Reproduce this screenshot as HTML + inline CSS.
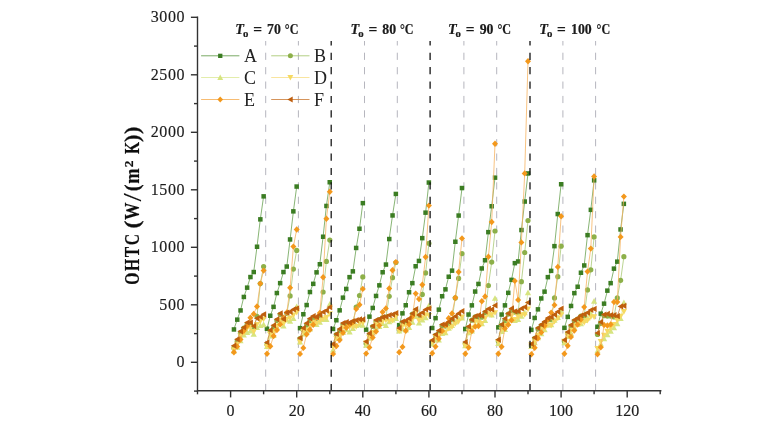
<!DOCTYPE html>
<html><head><meta charset="utf-8"><title>OHTC chart</title>
<style>html,body{margin:0;padding:0;background:#fff}svg{display:block}</style></head>
<body>
<svg width="779" height="425" viewBox="0 0 779 425">
<defs><filter id="soft" x="0" y="0" width="779" height="425" filterUnits="userSpaceOnUse"><feGaussianBlur stdDeviation="0.38"/></filter></defs>
<rect width="779" height="425" fill="#fff"/>
<g filter="url(#soft)">
<line x1="265.7" y1="41" x2="265.7" y2="390" stroke="#b6b6be" stroke-width="1.0" stroke-dasharray="7.2 7.2" stroke-dashoffset="2.7"/>
<line x1="298.4" y1="41" x2="298.4" y2="390" stroke="#b6b6be" stroke-width="1.0" stroke-dasharray="7.2 7.2" stroke-dashoffset="2.7"/>
<line x1="364.5" y1="41" x2="364.5" y2="390" stroke="#b6b6be" stroke-width="1.0" stroke-dasharray="7.2 7.2" stroke-dashoffset="2.7"/>
<line x1="397.3" y1="41" x2="397.3" y2="390" stroke="#b6b6be" stroke-width="1.0" stroke-dasharray="7.2 7.2" stroke-dashoffset="2.7"/>
<line x1="463.9" y1="41" x2="463.9" y2="390" stroke="#b6b6be" stroke-width="1.0" stroke-dasharray="7.2 7.2" stroke-dashoffset="2.7"/>
<line x1="496.7" y1="41" x2="496.7" y2="390" stroke="#b6b6be" stroke-width="1.0" stroke-dasharray="7.2 7.2" stroke-dashoffset="2.7"/>
<line x1="562.9" y1="41" x2="562.9" y2="390" stroke="#b6b6be" stroke-width="1.0" stroke-dasharray="7.2 7.2" stroke-dashoffset="2.7"/>
<line x1="595.6" y1="41" x2="595.6" y2="390" stroke="#b6b6be" stroke-width="1.0" stroke-dasharray="7.2 7.2" stroke-dashoffset="2.7"/>
<polyline points="233.9,329.4 237.2,319.6 240.5,310.4 243.8,297.0 247.1,287.7 250.4,277.1 253.7,272.0 257.0,246.7 260.3,219.4 263.6,196.4" fill="none" stroke="#6aa252" stroke-width="0.8"/>
<rect x="231.7" y="327.2" width="4.5" height="4.5" fill="#3b7d23"/>
<rect x="235.0" y="317.4" width="4.5" height="4.5" fill="#3b7d23"/>
<rect x="238.3" y="308.2" width="4.5" height="4.5" fill="#3b7d23"/>
<rect x="241.6" y="294.7" width="4.5" height="4.5" fill="#3b7d23"/>
<rect x="244.9" y="285.4" width="4.5" height="4.5" fill="#3b7d23"/>
<rect x="248.2" y="274.8" width="4.5" height="4.5" fill="#3b7d23"/>
<rect x="251.5" y="269.8" width="4.5" height="4.5" fill="#3b7d23"/>
<rect x="254.8" y="244.5" width="4.5" height="4.5" fill="#3b7d23"/>
<rect x="258.1" y="217.1" width="4.5" height="4.5" fill="#3b7d23"/>
<rect x="261.4" y="194.1" width="4.5" height="4.5" fill="#3b7d23"/>
<polyline points="267.0,328.7 270.3,315.7 273.6,306.9 276.9,293.1 280.2,283.2 283.5,272.0 286.8,266.5 290.1,239.5 293.4,211.3 296.7,186.6" fill="none" stroke="#6aa252" stroke-width="0.8"/>
<rect x="264.7" y="326.5" width="4.5" height="4.5" fill="#3b7d23"/>
<rect x="268.0" y="313.5" width="4.5" height="4.5" fill="#3b7d23"/>
<rect x="271.3" y="304.6" width="4.5" height="4.5" fill="#3b7d23"/>
<rect x="274.6" y="290.8" width="4.5" height="4.5" fill="#3b7d23"/>
<rect x="277.9" y="280.9" width="4.5" height="4.5" fill="#3b7d23"/>
<rect x="281.2" y="269.8" width="4.5" height="4.5" fill="#3b7d23"/>
<rect x="284.5" y="264.3" width="4.5" height="4.5" fill="#3b7d23"/>
<rect x="287.8" y="237.2" width="4.5" height="4.5" fill="#3b7d23"/>
<rect x="291.1" y="209.1" width="4.5" height="4.5" fill="#3b7d23"/>
<rect x="294.4" y="184.3" width="4.5" height="4.5" fill="#3b7d23"/>
<polyline points="300.0,328.1 303.3,314.2 306.6,305.0 309.9,292.0 313.2,283.9 316.5,272.4 319.8,264.2 323.1,236.7 326.4,205.9 329.8,182.2" fill="none" stroke="#6aa252" stroke-width="0.8"/>
<rect x="297.8" y="325.9" width="4.5" height="4.5" fill="#3b7d23"/>
<rect x="301.1" y="312.0" width="4.5" height="4.5" fill="#3b7d23"/>
<rect x="304.4" y="302.8" width="4.5" height="4.5" fill="#3b7d23"/>
<rect x="307.7" y="289.8" width="4.5" height="4.5" fill="#3b7d23"/>
<rect x="311.0" y="281.6" width="4.5" height="4.5" fill="#3b7d23"/>
<rect x="314.3" y="270.1" width="4.5" height="4.5" fill="#3b7d23"/>
<rect x="317.6" y="262.0" width="4.5" height="4.5" fill="#3b7d23"/>
<rect x="320.9" y="234.5" width="4.5" height="4.5" fill="#3b7d23"/>
<rect x="324.2" y="203.7" width="4.5" height="4.5" fill="#3b7d23"/>
<rect x="327.5" y="180.0" width="4.5" height="4.5" fill="#3b7d23"/>
<polyline points="333.1,328.9 336.4,320.2 339.7,310.3 343.0,297.7 346.3,288.9 349.6,277.2 352.9,271.3 356.2,248.0 359.5,228.8 362.8,203.1" fill="none" stroke="#6aa252" stroke-width="0.8"/>
<rect x="330.8" y="326.7" width="4.5" height="4.5" fill="#3b7d23"/>
<rect x="334.1" y="318.0" width="4.5" height="4.5" fill="#3b7d23"/>
<rect x="337.4" y="308.1" width="4.5" height="4.5" fill="#3b7d23"/>
<rect x="340.7" y="295.4" width="4.5" height="4.5" fill="#3b7d23"/>
<rect x="344.0" y="286.7" width="4.5" height="4.5" fill="#3b7d23"/>
<rect x="347.3" y="274.9" width="4.5" height="4.5" fill="#3b7d23"/>
<rect x="350.6" y="269.1" width="4.5" height="4.5" fill="#3b7d23"/>
<rect x="353.9" y="245.7" width="4.5" height="4.5" fill="#3b7d23"/>
<rect x="357.2" y="226.5" width="4.5" height="4.5" fill="#3b7d23"/>
<rect x="360.6" y="200.9" width="4.5" height="4.5" fill="#3b7d23"/>
<polyline points="366.1,329.6 369.4,316.6 372.7,307.9 376.0,295.9 379.3,285.4 382.6,272.3 385.9,264.6 389.2,239.0 392.5,215.4 395.9,193.9" fill="none" stroke="#6aa252" stroke-width="0.8"/>
<rect x="363.9" y="327.4" width="4.5" height="4.5" fill="#3b7d23"/>
<rect x="367.2" y="314.4" width="4.5" height="4.5" fill="#3b7d23"/>
<rect x="370.5" y="305.7" width="4.5" height="4.5" fill="#3b7d23"/>
<rect x="373.8" y="293.7" width="4.5" height="4.5" fill="#3b7d23"/>
<rect x="377.1" y="283.1" width="4.5" height="4.5" fill="#3b7d23"/>
<rect x="380.4" y="270.0" width="4.5" height="4.5" fill="#3b7d23"/>
<rect x="383.7" y="262.3" width="4.5" height="4.5" fill="#3b7d23"/>
<rect x="387.0" y="236.8" width="4.5" height="4.5" fill="#3b7d23"/>
<rect x="390.3" y="213.2" width="4.5" height="4.5" fill="#3b7d23"/>
<rect x="393.6" y="191.7" width="4.5" height="4.5" fill="#3b7d23"/>
<polyline points="399.2,325.2 402.5,313.3 405.8,305.3 409.1,292.3 412.4,283.2 415.7,266.3 419.0,261.0 422.3,238.1 425.6,212.7 428.9,182.6" fill="none" stroke="#6aa252" stroke-width="0.8"/>
<rect x="396.9" y="322.9" width="4.5" height="4.5" fill="#3b7d23"/>
<rect x="400.2" y="311.1" width="4.5" height="4.5" fill="#3b7d23"/>
<rect x="403.5" y="303.0" width="4.5" height="4.5" fill="#3b7d23"/>
<rect x="406.8" y="290.0" width="4.5" height="4.5" fill="#3b7d23"/>
<rect x="410.1" y="280.9" width="4.5" height="4.5" fill="#3b7d23"/>
<rect x="413.4" y="264.0" width="4.5" height="4.5" fill="#3b7d23"/>
<rect x="416.7" y="258.7" width="4.5" height="4.5" fill="#3b7d23"/>
<rect x="420.0" y="235.9" width="4.5" height="4.5" fill="#3b7d23"/>
<rect x="423.3" y="210.4" width="4.5" height="4.5" fill="#3b7d23"/>
<rect x="426.6" y="180.3" width="4.5" height="4.5" fill="#3b7d23"/>
<polyline points="432.2,328.0 435.5,318.1 438.8,309.6 442.1,296.3 445.4,289.4 448.7,276.7 452.0,270.6 455.3,241.8 458.6,215.6 462.0,188.1" fill="none" stroke="#6aa252" stroke-width="0.8"/>
<rect x="430.0" y="325.8" width="4.5" height="4.5" fill="#3b7d23"/>
<rect x="433.3" y="315.9" width="4.5" height="4.5" fill="#3b7d23"/>
<rect x="436.6" y="307.4" width="4.5" height="4.5" fill="#3b7d23"/>
<rect x="439.9" y="294.0" width="4.5" height="4.5" fill="#3b7d23"/>
<rect x="443.2" y="287.1" width="4.5" height="4.5" fill="#3b7d23"/>
<rect x="446.5" y="274.5" width="4.5" height="4.5" fill="#3b7d23"/>
<rect x="449.8" y="268.4" width="4.5" height="4.5" fill="#3b7d23"/>
<rect x="453.1" y="239.5" width="4.5" height="4.5" fill="#3b7d23"/>
<rect x="456.4" y="213.3" width="4.5" height="4.5" fill="#3b7d23"/>
<rect x="459.7" y="185.8" width="4.5" height="4.5" fill="#3b7d23"/>
<polyline points="465.3,329.1 468.6,314.6 471.9,305.4 475.2,291.6 478.5,284.0 481.8,268.5 485.1,260.3 488.4,232.1 491.7,206.2 495.0,177.6" fill="none" stroke="#6aa252" stroke-width="0.8"/>
<rect x="463.0" y="326.8" width="4.5" height="4.5" fill="#3b7d23"/>
<rect x="466.3" y="312.3" width="4.5" height="4.5" fill="#3b7d23"/>
<rect x="469.6" y="303.1" width="4.5" height="4.5" fill="#3b7d23"/>
<rect x="472.9" y="289.3" width="4.5" height="4.5" fill="#3b7d23"/>
<rect x="476.2" y="281.7" width="4.5" height="4.5" fill="#3b7d23"/>
<rect x="479.5" y="266.2" width="4.5" height="4.5" fill="#3b7d23"/>
<rect x="482.8" y="258.0" width="4.5" height="4.5" fill="#3b7d23"/>
<rect x="486.1" y="229.9" width="4.5" height="4.5" fill="#3b7d23"/>
<rect x="489.4" y="204.0" width="4.5" height="4.5" fill="#3b7d23"/>
<rect x="492.8" y="175.4" width="4.5" height="4.5" fill="#3b7d23"/>
<polyline points="498.3,327.3 501.6,314.6 504.9,305.4 508.2,292.8 511.5,279.8 514.8,263.2 518.1,261.4 521.4,230.1 524.7,201.5 528.0,173.5" fill="none" stroke="#6aa252" stroke-width="0.8"/>
<rect x="496.1" y="325.1" width="4.5" height="4.5" fill="#3b7d23"/>
<rect x="499.4" y="312.3" width="4.5" height="4.5" fill="#3b7d23"/>
<rect x="502.7" y="303.1" width="4.5" height="4.5" fill="#3b7d23"/>
<rect x="506.0" y="290.6" width="4.5" height="4.5" fill="#3b7d23"/>
<rect x="509.3" y="277.6" width="4.5" height="4.5" fill="#3b7d23"/>
<rect x="512.6" y="260.9" width="4.5" height="4.5" fill="#3b7d23"/>
<rect x="515.9" y="259.2" width="4.5" height="4.5" fill="#3b7d23"/>
<rect x="519.2" y="227.8" width="4.5" height="4.5" fill="#3b7d23"/>
<rect x="522.5" y="199.3" width="4.5" height="4.5" fill="#3b7d23"/>
<rect x="525.8" y="171.2" width="4.5" height="4.5" fill="#3b7d23"/>
<polyline points="531.4,329.9 534.7,317.9 538.0,309.4 541.3,298.5 544.6,291.7 547.9,277.2 551.2,270.9 554.5,246.2 557.8,214.1 561.1,184.3" fill="none" stroke="#6aa252" stroke-width="0.8"/>
<rect x="529.1" y="327.6" width="4.5" height="4.5" fill="#3b7d23"/>
<rect x="532.4" y="315.7" width="4.5" height="4.5" fill="#3b7d23"/>
<rect x="535.7" y="307.1" width="4.5" height="4.5" fill="#3b7d23"/>
<rect x="539.0" y="296.2" width="4.5" height="4.5" fill="#3b7d23"/>
<rect x="542.3" y="289.4" width="4.5" height="4.5" fill="#3b7d23"/>
<rect x="545.6" y="274.9" width="4.5" height="4.5" fill="#3b7d23"/>
<rect x="548.9" y="268.6" width="4.5" height="4.5" fill="#3b7d23"/>
<rect x="552.2" y="243.9" width="4.5" height="4.5" fill="#3b7d23"/>
<rect x="555.5" y="211.8" width="4.5" height="4.5" fill="#3b7d23"/>
<rect x="558.9" y="182.0" width="4.5" height="4.5" fill="#3b7d23"/>
<polyline points="564.4,327.8 567.7,316.9 571.0,305.9 574.3,293.2 577.6,286.7 580.9,272.7 584.2,265.5 587.5,235.1 590.8,209.8 594.1,180.4" fill="none" stroke="#6aa252" stroke-width="0.8"/>
<rect x="562.2" y="325.6" width="4.5" height="4.5" fill="#3b7d23"/>
<rect x="565.5" y="314.6" width="4.5" height="4.5" fill="#3b7d23"/>
<rect x="568.8" y="303.7" width="4.5" height="4.5" fill="#3b7d23"/>
<rect x="572.1" y="290.9" width="4.5" height="4.5" fill="#3b7d23"/>
<rect x="575.4" y="284.5" width="4.5" height="4.5" fill="#3b7d23"/>
<rect x="578.7" y="270.5" width="4.5" height="4.5" fill="#3b7d23"/>
<rect x="582.0" y="263.2" width="4.5" height="4.5" fill="#3b7d23"/>
<rect x="585.3" y="232.9" width="4.5" height="4.5" fill="#3b7d23"/>
<rect x="588.6" y="207.6" width="4.5" height="4.5" fill="#3b7d23"/>
<rect x="591.9" y="178.1" width="4.5" height="4.5" fill="#3b7d23"/>
<polyline points="597.5,326.8 600.8,313.7 604.1,303.6 607.4,290.7 610.7,283.2 614.0,268.7 617.3,261.7 620.6,229.5 623.9,203.8" fill="none" stroke="#6aa252" stroke-width="0.8"/>
<rect x="595.2" y="324.5" width="4.5" height="4.5" fill="#3b7d23"/>
<rect x="598.5" y="311.4" width="4.5" height="4.5" fill="#3b7d23"/>
<rect x="601.8" y="301.4" width="4.5" height="4.5" fill="#3b7d23"/>
<rect x="605.1" y="288.4" width="4.5" height="4.5" fill="#3b7d23"/>
<rect x="608.4" y="280.9" width="4.5" height="4.5" fill="#3b7d23"/>
<rect x="611.7" y="266.4" width="4.5" height="4.5" fill="#3b7d23"/>
<rect x="615.0" y="259.4" width="4.5" height="4.5" fill="#3b7d23"/>
<rect x="618.3" y="227.2" width="4.5" height="4.5" fill="#3b7d23"/>
<rect x="621.6" y="201.6" width="4.5" height="4.5" fill="#3b7d23"/>
<polyline points="233.9,347.9 237.2,341.4 240.5,332.9 243.8,328.2 247.1,324.6 250.4,324.4 253.7,327.3 257.0,316.3 260.3,283.6 263.6,266.5" fill="none" stroke="#aac976" stroke-width="0.8"/>
<circle cx="233.9" cy="347.9" r="2.6" fill="#8db04a"/>
<circle cx="237.2" cy="341.4" r="2.6" fill="#8db04a"/>
<circle cx="240.5" cy="332.9" r="2.6" fill="#8db04a"/>
<circle cx="243.8" cy="328.2" r="2.6" fill="#8db04a"/>
<circle cx="247.1" cy="324.6" r="2.6" fill="#8db04a"/>
<circle cx="250.4" cy="324.4" r="2.6" fill="#8db04a"/>
<circle cx="253.7" cy="327.3" r="2.6" fill="#8db04a"/>
<circle cx="257.0" cy="316.3" r="2.6" fill="#8db04a"/>
<circle cx="260.3" cy="283.6" r="2.6" fill="#8db04a"/>
<circle cx="263.6" cy="266.5" r="2.6" fill="#8db04a"/>
<polyline points="267.0,344.6 270.3,331.6 273.6,327.5 276.9,320.4 280.2,314.3 283.5,320.3 286.8,313.3 290.1,295.9 293.4,269.1 296.7,250.4" fill="none" stroke="#aac976" stroke-width="0.8"/>
<circle cx="267.0" cy="344.6" r="2.6" fill="#8db04a"/>
<circle cx="270.3" cy="331.6" r="2.6" fill="#8db04a"/>
<circle cx="273.6" cy="327.5" r="2.6" fill="#8db04a"/>
<circle cx="276.9" cy="320.4" r="2.6" fill="#8db04a"/>
<circle cx="280.2" cy="314.3" r="2.6" fill="#8db04a"/>
<circle cx="283.5" cy="320.3" r="2.6" fill="#8db04a"/>
<circle cx="286.8" cy="313.3" r="2.6" fill="#8db04a"/>
<circle cx="290.1" cy="295.9" r="2.6" fill="#8db04a"/>
<circle cx="293.4" cy="269.1" r="2.6" fill="#8db04a"/>
<circle cx="296.7" cy="250.4" r="2.6" fill="#8db04a"/>
<polyline points="300.0,338.7 303.3,330.0 306.6,325.1 309.9,320.4 313.2,317.8 316.5,318.3 319.8,316.0 323.1,292.0 326.4,261.4 329.8,240.1" fill="none" stroke="#aac976" stroke-width="0.8"/>
<circle cx="300.0" cy="338.7" r="2.6" fill="#8db04a"/>
<circle cx="303.3" cy="330.0" r="2.6" fill="#8db04a"/>
<circle cx="306.6" cy="325.1" r="2.6" fill="#8db04a"/>
<circle cx="309.9" cy="320.4" r="2.6" fill="#8db04a"/>
<circle cx="313.2" cy="317.8" r="2.6" fill="#8db04a"/>
<circle cx="316.5" cy="318.3" r="2.6" fill="#8db04a"/>
<circle cx="319.8" cy="316.0" r="2.6" fill="#8db04a"/>
<circle cx="323.1" cy="292.0" r="2.6" fill="#8db04a"/>
<circle cx="326.4" cy="261.4" r="2.6" fill="#8db04a"/>
<circle cx="329.8" cy="240.1" r="2.6" fill="#8db04a"/>
<polyline points="333.1,344.9 336.4,334.5 339.7,330.3 343.0,324.6 346.3,324.2 349.6,324.7 352.9,322.8 356.2,307.1 359.5,295.5 362.8,276.9" fill="none" stroke="#aac976" stroke-width="0.8"/>
<circle cx="333.1" cy="344.9" r="2.6" fill="#8db04a"/>
<circle cx="336.4" cy="334.5" r="2.6" fill="#8db04a"/>
<circle cx="339.7" cy="330.3" r="2.6" fill="#8db04a"/>
<circle cx="343.0" cy="324.6" r="2.6" fill="#8db04a"/>
<circle cx="346.3" cy="324.2" r="2.6" fill="#8db04a"/>
<circle cx="349.6" cy="324.7" r="2.6" fill="#8db04a"/>
<circle cx="352.9" cy="322.8" r="2.6" fill="#8db04a"/>
<circle cx="356.2" cy="307.1" r="2.6" fill="#8db04a"/>
<circle cx="359.5" cy="295.5" r="2.6" fill="#8db04a"/>
<circle cx="362.8" cy="276.9" r="2.6" fill="#8db04a"/>
<polyline points="366.1,343.4 369.4,334.4 372.7,326.5 376.0,321.5 379.3,319.7 382.6,317.6 385.9,317.2 389.2,296.3 392.5,277.7 395.9,262.5" fill="none" stroke="#aac976" stroke-width="0.8"/>
<circle cx="366.1" cy="343.4" r="2.6" fill="#8db04a"/>
<circle cx="369.4" cy="334.4" r="2.6" fill="#8db04a"/>
<circle cx="372.7" cy="326.5" r="2.6" fill="#8db04a"/>
<circle cx="376.0" cy="321.5" r="2.6" fill="#8db04a"/>
<circle cx="379.3" cy="319.7" r="2.6" fill="#8db04a"/>
<circle cx="382.6" cy="317.6" r="2.6" fill="#8db04a"/>
<circle cx="385.9" cy="317.2" r="2.6" fill="#8db04a"/>
<circle cx="389.2" cy="296.3" r="2.6" fill="#8db04a"/>
<circle cx="392.5" cy="277.7" r="2.6" fill="#8db04a"/>
<circle cx="395.9" cy="262.5" r="2.6" fill="#8db04a"/>
<polyline points="399.2,329.8 402.5,322.9 405.8,322.8 409.1,320.8 412.4,314.0 415.7,310.3 419.0,316.2 422.3,294.4 425.6,272.9 428.9,243.3" fill="none" stroke="#aac976" stroke-width="0.8"/>
<circle cx="399.2" cy="329.8" r="2.6" fill="#8db04a"/>
<circle cx="402.5" cy="322.9" r="2.6" fill="#8db04a"/>
<circle cx="405.8" cy="322.8" r="2.6" fill="#8db04a"/>
<circle cx="409.1" cy="320.8" r="2.6" fill="#8db04a"/>
<circle cx="412.4" cy="314.0" r="2.6" fill="#8db04a"/>
<circle cx="415.7" cy="310.3" r="2.6" fill="#8db04a"/>
<circle cx="419.0" cy="316.2" r="2.6" fill="#8db04a"/>
<circle cx="422.3" cy="294.4" r="2.6" fill="#8db04a"/>
<circle cx="425.6" cy="272.9" r="2.6" fill="#8db04a"/>
<circle cx="428.9" cy="243.3" r="2.6" fill="#8db04a"/>
<polyline points="432.2,341.5 435.5,335.4 438.8,332.7 442.1,325.8 445.4,326.1 448.7,323.6 452.0,319.7 455.3,297.9 458.6,278.4 462.0,253.6" fill="none" stroke="#aac976" stroke-width="0.8"/>
<circle cx="432.2" cy="341.5" r="2.6" fill="#8db04a"/>
<circle cx="435.5" cy="335.4" r="2.6" fill="#8db04a"/>
<circle cx="438.8" cy="332.7" r="2.6" fill="#8db04a"/>
<circle cx="442.1" cy="325.8" r="2.6" fill="#8db04a"/>
<circle cx="445.4" cy="326.1" r="2.6" fill="#8db04a"/>
<circle cx="448.7" cy="323.6" r="2.6" fill="#8db04a"/>
<circle cx="452.0" cy="319.7" r="2.6" fill="#8db04a"/>
<circle cx="455.3" cy="297.9" r="2.6" fill="#8db04a"/>
<circle cx="458.6" cy="278.4" r="2.6" fill="#8db04a"/>
<circle cx="462.0" cy="253.6" r="2.6" fill="#8db04a"/>
<polyline points="465.3,343.5 468.6,327.9 471.9,320.2 475.2,316.9 478.5,317.2 481.8,317.2 485.1,312.7 488.4,285.5 491.7,262.1 495.0,231.0" fill="none" stroke="#aac976" stroke-width="0.8"/>
<circle cx="465.3" cy="343.5" r="2.6" fill="#8db04a"/>
<circle cx="468.6" cy="327.9" r="2.6" fill="#8db04a"/>
<circle cx="471.9" cy="320.2" r="2.6" fill="#8db04a"/>
<circle cx="475.2" cy="316.9" r="2.6" fill="#8db04a"/>
<circle cx="478.5" cy="317.2" r="2.6" fill="#8db04a"/>
<circle cx="481.8" cy="317.2" r="2.6" fill="#8db04a"/>
<circle cx="485.1" cy="312.7" r="2.6" fill="#8db04a"/>
<circle cx="488.4" cy="285.5" r="2.6" fill="#8db04a"/>
<circle cx="491.7" cy="262.1" r="2.6" fill="#8db04a"/>
<circle cx="495.0" cy="231.0" r="2.6" fill="#8db04a"/>
<polyline points="498.3,340.9 501.6,325.4 504.9,320.7 508.2,314.1 511.5,310.6 514.8,312.1 518.1,312.7 521.4,281.7 524.7,252.5 528.0,220.5" fill="none" stroke="#aac976" stroke-width="0.8"/>
<circle cx="498.3" cy="340.9" r="2.6" fill="#8db04a"/>
<circle cx="501.6" cy="325.4" r="2.6" fill="#8db04a"/>
<circle cx="504.9" cy="320.7" r="2.6" fill="#8db04a"/>
<circle cx="508.2" cy="314.1" r="2.6" fill="#8db04a"/>
<circle cx="511.5" cy="310.6" r="2.6" fill="#8db04a"/>
<circle cx="514.8" cy="312.1" r="2.6" fill="#8db04a"/>
<circle cx="518.1" cy="312.7" r="2.6" fill="#8db04a"/>
<circle cx="521.4" cy="281.7" r="2.6" fill="#8db04a"/>
<circle cx="524.7" cy="252.5" r="2.6" fill="#8db04a"/>
<circle cx="528.0" cy="220.5" r="2.6" fill="#8db04a"/>
<polyline points="531.4,345.7 534.7,338.3 538.0,328.9 541.3,325.7 544.6,323.0 547.9,319.8 551.2,319.4 554.5,297.9 557.8,276.7 561.1,246.2" fill="none" stroke="#aac976" stroke-width="0.8"/>
<circle cx="531.4" cy="345.7" r="2.6" fill="#8db04a"/>
<circle cx="534.7" cy="338.3" r="2.6" fill="#8db04a"/>
<circle cx="538.0" cy="328.9" r="2.6" fill="#8db04a"/>
<circle cx="541.3" cy="325.7" r="2.6" fill="#8db04a"/>
<circle cx="544.6" cy="323.0" r="2.6" fill="#8db04a"/>
<circle cx="547.9" cy="319.8" r="2.6" fill="#8db04a"/>
<circle cx="551.2" cy="319.4" r="2.6" fill="#8db04a"/>
<circle cx="554.5" cy="297.9" r="2.6" fill="#8db04a"/>
<circle cx="557.8" cy="276.7" r="2.6" fill="#8db04a"/>
<circle cx="561.1" cy="246.2" r="2.6" fill="#8db04a"/>
<polyline points="564.4,341.3 567.7,333.4 571.0,326.1 574.3,321.1 577.6,319.2 580.9,316.2 584.2,315.9 587.5,289.9 590.8,269.8 594.1,236.9" fill="none" stroke="#aac976" stroke-width="0.8"/>
<circle cx="564.4" cy="341.3" r="2.6" fill="#8db04a"/>
<circle cx="567.7" cy="333.4" r="2.6" fill="#8db04a"/>
<circle cx="571.0" cy="326.1" r="2.6" fill="#8db04a"/>
<circle cx="574.3" cy="321.1" r="2.6" fill="#8db04a"/>
<circle cx="577.6" cy="319.2" r="2.6" fill="#8db04a"/>
<circle cx="580.9" cy="316.2" r="2.6" fill="#8db04a"/>
<circle cx="584.2" cy="315.9" r="2.6" fill="#8db04a"/>
<circle cx="587.5" cy="289.9" r="2.6" fill="#8db04a"/>
<circle cx="590.8" cy="269.8" r="2.6" fill="#8db04a"/>
<circle cx="594.1" cy="236.9" r="2.6" fill="#8db04a"/>
<polyline points="597.5,334.4 600.8,323.3 604.1,315.7 607.4,316.1 610.7,316.1 614.0,316.9 617.3,297.9 620.6,280.3 623.9,256.7" fill="none" stroke="#aac976" stroke-width="0.8"/>
<circle cx="597.5" cy="334.4" r="2.6" fill="#8db04a"/>
<circle cx="600.8" cy="323.3" r="2.6" fill="#8db04a"/>
<circle cx="604.1" cy="315.7" r="2.6" fill="#8db04a"/>
<circle cx="607.4" cy="316.1" r="2.6" fill="#8db04a"/>
<circle cx="610.7" cy="316.1" r="2.6" fill="#8db04a"/>
<circle cx="614.0" cy="316.9" r="2.6" fill="#8db04a"/>
<circle cx="617.3" cy="297.9" r="2.6" fill="#8db04a"/>
<circle cx="620.6" cy="280.3" r="2.6" fill="#8db04a"/>
<circle cx="623.9" cy="256.7" r="2.6" fill="#8db04a"/>
<polyline points="233.9,351.1 237.2,347.2 240.5,340.8 243.8,335.0 247.1,332.4 250.4,330.9 253.7,334.3 257.0,327.6 260.3,325.5 263.6,324.7" fill="none" stroke="#e0eba2" stroke-width="0.8"/>
<path d="M233.9 348.0L237.0 353.5L230.8 353.5Z" fill="#d6e480"/>
<path d="M237.2 344.1L240.3 349.7L234.1 349.7Z" fill="#d6e480"/>
<path d="M240.5 337.7L243.6 343.3L237.4 343.3Z" fill="#d6e480"/>
<path d="M243.8 331.9L246.9 337.5L240.7 337.5Z" fill="#d6e480"/>
<path d="M247.1 329.3L250.2 334.9L244.0 334.9Z" fill="#d6e480"/>
<path d="M250.4 327.8L253.5 333.4L247.3 333.4Z" fill="#d6e480"/>
<path d="M253.7 331.2L256.8 336.8L250.6 336.8Z" fill="#d6e480"/>
<path d="M257.0 324.5L260.1 330.0L253.9 330.0Z" fill="#d6e480"/>
<path d="M260.3 322.4L263.4 328.0L257.2 328.0Z" fill="#d6e480"/>
<path d="M263.6 321.6L266.8 327.2L260.5 327.2Z" fill="#d6e480"/>
<polyline points="267.0,346.7 270.3,336.2 273.6,335.7 276.9,327.3 280.2,321.6 283.5,326.0 286.8,320.1 290.1,321.3 293.4,318.6 296.7,306.5" fill="none" stroke="#e0eba2" stroke-width="0.8"/>
<path d="M267.0 343.6L270.1 349.1L263.9 349.1Z" fill="#d6e480"/>
<path d="M270.3 333.1L273.4 338.6L267.2 338.6Z" fill="#d6e480"/>
<path d="M273.6 332.6L276.7 338.1L270.5 338.1Z" fill="#d6e480"/>
<path d="M276.9 324.2L280.0 329.8L273.8 329.8Z" fill="#d6e480"/>
<path d="M280.2 318.5L283.3 324.1L277.1 324.1Z" fill="#d6e480"/>
<path d="M283.5 322.9L286.6 328.5L280.4 328.5Z" fill="#d6e480"/>
<path d="M286.8 317.0L289.9 322.6L283.7 322.6Z" fill="#d6e480"/>
<path d="M290.1 318.2L293.2 323.8L287.0 323.8Z" fill="#d6e480"/>
<path d="M293.4 315.5L296.5 321.1L290.3 321.1Z" fill="#d6e480"/>
<path d="M296.7 303.4L299.8 309.0L293.6 309.0Z" fill="#d6e480"/>
<polyline points="300.0,342.1 303.3,334.1 306.6,331.2 309.9,328.9 313.2,323.2 316.5,324.6 319.8,322.2 323.1,319.6 326.4,319.6 329.8,304.2" fill="none" stroke="#e0eba2" stroke-width="0.8"/>
<path d="M300.0 339.0L303.1 344.6L296.9 344.6Z" fill="#d6e480"/>
<path d="M303.3 331.0L306.4 336.6L300.2 336.6Z" fill="#d6e480"/>
<path d="M306.6 328.1L309.7 333.7L303.5 333.7Z" fill="#d6e480"/>
<path d="M309.9 325.8L313.0 331.4L306.8 331.4Z" fill="#d6e480"/>
<path d="M313.2 320.1L316.3 325.7L310.1 325.7Z" fill="#d6e480"/>
<path d="M316.5 321.5L319.6 327.0L313.4 327.0Z" fill="#d6e480"/>
<path d="M319.8 319.1L322.9 324.7L316.7 324.7Z" fill="#d6e480"/>
<path d="M323.1 316.5L326.2 322.1L320.0 322.1Z" fill="#d6e480"/>
<path d="M326.4 316.5L329.5 322.0L323.3 322.0Z" fill="#d6e480"/>
<path d="M329.8 301.1L332.9 306.7L326.6 306.7Z" fill="#d6e480"/>
<polyline points="333.1,349.9 336.4,338.7 339.7,337.0 343.0,332.5 346.3,329.7 349.6,331.9 352.9,328.4 356.2,325.6 359.5,324.8 362.8,325.3" fill="none" stroke="#e0eba2" stroke-width="0.8"/>
<path d="M333.1 346.8L336.2 352.4L330.0 352.4Z" fill="#d6e480"/>
<path d="M336.4 335.6L339.5 341.1L333.3 341.1Z" fill="#d6e480"/>
<path d="M339.7 333.9L342.8 339.5L336.6 339.5Z" fill="#d6e480"/>
<path d="M343.0 329.4L346.1 335.0L339.9 335.0Z" fill="#d6e480"/>
<path d="M346.3 326.6L349.4 332.2L343.2 332.2Z" fill="#d6e480"/>
<path d="M349.6 328.8L352.7 334.4L346.5 334.4Z" fill="#d6e480"/>
<path d="M352.9 325.3L356.0 330.9L349.8 330.9Z" fill="#d6e480"/>
<path d="M356.2 322.5L359.3 328.1L353.1 328.1Z" fill="#d6e480"/>
<path d="M359.5 321.7L362.6 327.3L356.4 327.3Z" fill="#d6e480"/>
<path d="M362.8 322.2L365.9 327.8L359.7 327.8Z" fill="#d6e480"/>
<polyline points="366.1,345.2 369.4,338.2 372.7,333.0 376.0,328.1 379.3,326.4 382.6,323.7 385.9,325.5 389.2,321.7 392.5,320.0 395.9,318.6" fill="none" stroke="#e0eba2" stroke-width="0.8"/>
<path d="M366.1 342.1L369.2 347.7L363.0 347.7Z" fill="#d6e480"/>
<path d="M369.4 335.1L372.5 340.7L366.3 340.7Z" fill="#d6e480"/>
<path d="M372.7 329.9L375.8 335.5L369.6 335.5Z" fill="#d6e480"/>
<path d="M376.0 325.0L379.1 330.6L372.9 330.6Z" fill="#d6e480"/>
<path d="M379.3 323.3L382.4 328.9L376.2 328.9Z" fill="#d6e480"/>
<path d="M382.6 320.6L385.7 326.1L379.5 326.1Z" fill="#d6e480"/>
<path d="M385.9 322.4L389.0 328.0L382.8 328.0Z" fill="#d6e480"/>
<path d="M389.2 318.6L392.3 324.2L386.1 324.2Z" fill="#d6e480"/>
<path d="M392.5 316.9L395.6 322.5L389.4 322.5Z" fill="#d6e480"/>
<path d="M395.9 315.5L399.0 321.1L392.8 321.1Z" fill="#d6e480"/>
<polyline points="399.2,330.9 402.5,329.0 405.8,329.9 409.1,327.4 412.4,322.3 415.7,316.5 419.0,323.2 422.3,320.0 425.6,317.7 428.9,305.5" fill="none" stroke="#e0eba2" stroke-width="0.8"/>
<path d="M399.2 327.8L402.3 333.4L396.1 333.4Z" fill="#d6e480"/>
<path d="M402.5 325.9L405.6 331.5L399.4 331.5Z" fill="#d6e480"/>
<path d="M405.8 326.8L408.9 332.4L402.7 332.4Z" fill="#d6e480"/>
<path d="M409.1 324.3L412.2 329.9L406.0 329.9Z" fill="#d6e480"/>
<path d="M412.4 319.2L415.5 324.8L409.3 324.8Z" fill="#d6e480"/>
<path d="M415.7 313.4L418.8 319.0L412.6 319.0Z" fill="#d6e480"/>
<path d="M419.0 320.1L422.1 325.6L415.9 325.6Z" fill="#d6e480"/>
<path d="M422.3 316.9L425.4 322.5L419.2 322.5Z" fill="#d6e480"/>
<path d="M425.6 314.6L428.7 320.2L422.5 320.2Z" fill="#d6e480"/>
<path d="M428.9 302.4L432.0 308.0L425.8 308.0Z" fill="#d6e480"/>
<polyline points="432.2,344.2 435.5,340.0 438.8,340.2 442.1,333.4 445.4,332.8 448.7,328.2 452.0,325.7 455.3,322.1 458.6,318.5 462.0,318.2" fill="none" stroke="#e0eba2" stroke-width="0.8"/>
<path d="M432.2 341.1L435.3 346.6L429.1 346.6Z" fill="#d6e480"/>
<path d="M435.5 336.9L438.6 342.4L432.4 342.4Z" fill="#d6e480"/>
<path d="M438.8 337.1L441.9 342.6L435.7 342.6Z" fill="#d6e480"/>
<path d="M442.1 330.3L445.2 335.9L439.0 335.9Z" fill="#d6e480"/>
<path d="M445.4 329.7L448.5 335.3L442.3 335.3Z" fill="#d6e480"/>
<path d="M448.7 325.1L451.8 330.7L445.6 330.7Z" fill="#d6e480"/>
<path d="M452.0 322.6L455.1 328.1L448.9 328.1Z" fill="#d6e480"/>
<path d="M455.3 319.0L458.4 324.6L452.2 324.6Z" fill="#d6e480"/>
<path d="M458.6 315.4L461.7 320.9L455.5 320.9Z" fill="#d6e480"/>
<path d="M462.0 315.1L465.1 320.6L458.9 320.6Z" fill="#d6e480"/>
<polyline points="465.3,345.8 468.6,332.8 471.9,330.9 475.2,325.8 478.5,323.3 481.8,323.7 485.1,320.6 488.4,314.2 491.7,315.0 495.0,298.4" fill="none" stroke="#e0eba2" stroke-width="0.8"/>
<path d="M465.3 342.7L468.4 348.3L462.2 348.3Z" fill="#d6e480"/>
<path d="M468.6 329.7L471.7 335.3L465.5 335.3Z" fill="#d6e480"/>
<path d="M471.9 327.8L475.0 333.4L468.8 333.4Z" fill="#d6e480"/>
<path d="M475.2 322.7L478.3 328.2L472.1 328.2Z" fill="#d6e480"/>
<path d="M478.5 320.2L481.6 325.7L475.4 325.7Z" fill="#d6e480"/>
<path d="M481.8 320.6L484.9 326.2L478.7 326.2Z" fill="#d6e480"/>
<path d="M485.1 317.5L488.2 323.1L482.0 323.1Z" fill="#d6e480"/>
<path d="M488.4 311.1L491.5 316.6L485.3 316.6Z" fill="#d6e480"/>
<path d="M491.7 311.9L494.8 317.5L488.6 317.5Z" fill="#d6e480"/>
<path d="M495.0 295.3L498.1 300.8L491.9 300.8Z" fill="#d6e480"/>
<polyline points="498.3,343.7 501.6,331.7 504.9,329.5 508.2,323.6 511.5,318.6 514.8,320.5 518.1,319.5 521.4,316.3 524.7,312.8 528.0,292.7" fill="none" stroke="#e0eba2" stroke-width="0.8"/>
<path d="M498.3 340.6L501.4 346.1L495.2 346.1Z" fill="#d6e480"/>
<path d="M501.6 328.6L504.7 334.1L498.5 334.1Z" fill="#d6e480"/>
<path d="M504.9 326.4L508.0 331.9L501.8 331.9Z" fill="#d6e480"/>
<path d="M508.2 320.5L511.3 326.1L505.1 326.1Z" fill="#d6e480"/>
<path d="M511.5 315.5L514.6 321.1L508.4 321.1Z" fill="#d6e480"/>
<path d="M514.8 317.4L517.9 323.0L511.7 323.0Z" fill="#d6e480"/>
<path d="M518.1 316.4L521.2 322.0L515.0 322.0Z" fill="#d6e480"/>
<path d="M521.4 313.2L524.5 318.8L518.3 318.8Z" fill="#d6e480"/>
<path d="M524.7 309.7L527.8 315.3L521.6 315.3Z" fill="#d6e480"/>
<path d="M528.0 289.6L531.1 295.2L524.9 295.2Z" fill="#d6e480"/>
<polyline points="531.4,346.7 534.7,342.8 538.0,337.7 541.3,333.8 544.6,329.8 547.9,325.1 551.2,324.7 554.5,320.3 557.8,317.4 561.1,311.0" fill="none" stroke="#e0eba2" stroke-width="0.8"/>
<path d="M531.4 343.6L534.5 349.1L528.3 349.1Z" fill="#d6e480"/>
<path d="M534.7 339.7L537.8 345.3L531.6 345.3Z" fill="#d6e480"/>
<path d="M538.0 334.6L541.1 340.2L534.9 340.2Z" fill="#d6e480"/>
<path d="M541.3 330.7L544.4 336.3L538.2 336.3Z" fill="#d6e480"/>
<path d="M544.6 326.7L547.7 332.3L541.5 332.3Z" fill="#d6e480"/>
<path d="M547.9 322.0L551.0 327.6L544.8 327.6Z" fill="#d6e480"/>
<path d="M551.2 321.6L554.3 327.2L548.1 327.2Z" fill="#d6e480"/>
<path d="M554.5 317.2L557.6 322.8L551.4 322.8Z" fill="#d6e480"/>
<path d="M557.8 314.3L560.9 319.9L554.7 319.9Z" fill="#d6e480"/>
<path d="M561.1 307.9L564.2 313.5L558.0 313.5Z" fill="#d6e480"/>
<polyline points="564.4,342.8 567.7,336.5 571.0,333.6 574.3,327.5 577.6,324.6 580.9,323.7 584.2,320.4 587.5,318.2 590.8,313.6 594.1,301.2" fill="none" stroke="#e0eba2" stroke-width="0.8"/>
<path d="M564.4 339.7L567.5 345.3L561.3 345.3Z" fill="#d6e480"/>
<path d="M567.7 333.4L570.8 338.9L564.6 338.9Z" fill="#d6e480"/>
<path d="M571.0 330.5L574.1 336.1L567.9 336.1Z" fill="#d6e480"/>
<path d="M574.3 324.4L577.4 329.9L571.2 329.9Z" fill="#d6e480"/>
<path d="M577.6 321.5L580.7 327.1L574.5 327.1Z" fill="#d6e480"/>
<path d="M580.9 320.6L584.0 326.2L577.8 326.2Z" fill="#d6e480"/>
<path d="M584.2 317.3L587.3 322.9L581.1 322.9Z" fill="#d6e480"/>
<path d="M587.5 315.1L590.6 320.6L584.4 320.6Z" fill="#d6e480"/>
<path d="M590.8 310.5L593.9 316.1L587.7 316.1Z" fill="#d6e480"/>
<path d="M594.1 298.1L597.2 303.7L591.0 303.7Z" fill="#d6e480"/>
<polyline points="597.5,350.8 600.8,343.9 604.1,338.7 607.4,334.7 610.7,331.2 614.0,327.8 617.3,323.8 620.6,318.6 623.9,302.6" fill="none" stroke="#e0eba2" stroke-width="0.8"/>
<path d="M597.5 347.7L600.6 353.3L594.4 353.3Z" fill="#d6e480"/>
<path d="M600.8 340.8L603.9 346.4L597.7 346.4Z" fill="#d6e480"/>
<path d="M604.1 335.6L607.2 341.2L601.0 341.2Z" fill="#d6e480"/>
<path d="M607.4 331.6L610.5 337.2L604.3 337.2Z" fill="#d6e480"/>
<path d="M610.7 328.1L613.8 333.7L607.6 333.7Z" fill="#d6e480"/>
<path d="M614.0 324.7L617.1 330.3L610.9 330.3Z" fill="#d6e480"/>
<path d="M617.3 320.7L620.4 326.3L614.2 326.3Z" fill="#d6e480"/>
<path d="M620.6 315.5L623.7 321.1L617.5 321.1Z" fill="#d6e480"/>
<path d="M623.9 299.5L627.0 305.1L620.8 305.1Z" fill="#d6e480"/>
<polyline points="233.9,349.7 237.2,344.3 240.5,336.0 243.8,333.0 247.1,328.5 250.4,327.5 253.7,331.6 257.0,324.4 260.3,321.2 263.6,318.9" fill="none" stroke="#f8e294" stroke-width="0.8"/>
<path d="M233.9 352.8L237.0 347.2L230.8 347.2Z" fill="#f6da62"/>
<path d="M237.2 347.4L240.3 341.8L234.1 341.8Z" fill="#f6da62"/>
<path d="M240.5 339.1L243.6 333.5L237.4 333.5Z" fill="#f6da62"/>
<path d="M243.8 336.1L246.9 330.5L240.7 330.5Z" fill="#f6da62"/>
<path d="M247.1 331.6L250.2 326.0L244.0 326.0Z" fill="#f6da62"/>
<path d="M250.4 330.6L253.5 325.0L247.3 325.0Z" fill="#f6da62"/>
<path d="M253.7 334.7L256.8 329.1L250.6 329.1Z" fill="#f6da62"/>
<path d="M257.0 327.5L260.1 321.9L253.9 321.9Z" fill="#f6da62"/>
<path d="M260.3 324.3L263.4 318.7L257.2 318.7Z" fill="#f6da62"/>
<path d="M263.6 322.0L266.8 316.4L260.5 316.4Z" fill="#f6da62"/>
<polyline points="267.0,346.6 270.3,334.3 273.6,331.8 276.9,326.0 280.2,320.3 283.5,323.4 286.8,319.2 290.1,318.0 293.4,315.1 296.7,312.3" fill="none" stroke="#f8e294" stroke-width="0.8"/>
<path d="M267.0 349.7L270.1 344.1L263.9 344.1Z" fill="#f6da62"/>
<path d="M270.3 337.4L273.4 331.8L267.2 331.8Z" fill="#f6da62"/>
<path d="M273.6 334.9L276.7 329.3L270.5 329.3Z" fill="#f6da62"/>
<path d="M276.9 329.1L280.0 323.6L273.8 323.6Z" fill="#f6da62"/>
<path d="M280.2 323.4L283.3 317.8L277.1 317.8Z" fill="#f6da62"/>
<path d="M283.5 326.5L286.6 320.9L280.4 320.9Z" fill="#f6da62"/>
<path d="M286.8 322.3L289.9 316.7L283.7 316.7Z" fill="#f6da62"/>
<path d="M290.1 321.1L293.2 315.5L287.0 315.5Z" fill="#f6da62"/>
<path d="M293.4 318.2L296.5 312.6L290.3 312.6Z" fill="#f6da62"/>
<path d="M296.7 315.4L299.8 309.8L293.6 309.8Z" fill="#f6da62"/>
<polyline points="300.0,341.9 303.3,331.4 306.6,330.1 309.9,325.4 313.2,322.3 316.5,323.4 319.8,320.7 323.1,318.9 326.4,317.6 329.8,313.8" fill="none" stroke="#f8e294" stroke-width="0.8"/>
<path d="M300.0 345.0L303.1 339.4L296.9 339.4Z" fill="#f6da62"/>
<path d="M303.3 334.5L306.4 328.9L300.2 328.9Z" fill="#f6da62"/>
<path d="M306.6 333.2L309.7 327.6L303.5 327.6Z" fill="#f6da62"/>
<path d="M309.9 328.5L313.0 322.9L306.8 322.9Z" fill="#f6da62"/>
<path d="M313.2 325.4L316.3 319.8L310.1 319.8Z" fill="#f6da62"/>
<path d="M316.5 326.5L319.6 320.9L313.4 320.9Z" fill="#f6da62"/>
<path d="M319.8 323.8L322.9 318.2L316.7 318.2Z" fill="#f6da62"/>
<path d="M323.1 322.0L326.2 316.4L320.0 316.4Z" fill="#f6da62"/>
<path d="M326.4 320.7L329.5 315.1L323.3 315.1Z" fill="#f6da62"/>
<path d="M329.8 316.9L332.9 311.3L326.6 311.3Z" fill="#f6da62"/>
<polyline points="333.1,347.3 336.4,338.4 339.7,335.4 343.0,327.4 346.3,327.2 349.6,326.9 352.9,327.0 356.2,326.6 359.5,323.4 362.8,322.9" fill="none" stroke="#f8e294" stroke-width="0.8"/>
<path d="M333.1 350.4L336.2 344.8L330.0 344.8Z" fill="#f6da62"/>
<path d="M336.4 341.5L339.5 335.9L333.3 335.9Z" fill="#f6da62"/>
<path d="M339.7 338.5L342.8 332.9L336.6 332.9Z" fill="#f6da62"/>
<path d="M343.0 330.5L346.1 325.0L339.9 325.0Z" fill="#f6da62"/>
<path d="M346.3 330.3L349.4 324.7L343.2 324.7Z" fill="#f6da62"/>
<path d="M349.6 330.0L352.7 324.4L346.5 324.4Z" fill="#f6da62"/>
<path d="M352.9 330.1L356.0 324.6L349.8 324.6Z" fill="#f6da62"/>
<path d="M356.2 329.7L359.3 324.1L353.1 324.1Z" fill="#f6da62"/>
<path d="M359.5 326.5L362.6 320.9L356.4 320.9Z" fill="#f6da62"/>
<path d="M362.8 326.0L365.9 320.4L359.7 320.4Z" fill="#f6da62"/>
<polyline points="366.1,343.0 369.4,337.4 372.7,332.4 376.0,324.2 379.3,325.0 382.6,321.3 385.9,320.2 389.2,320.8 392.5,320.3 395.9,316.6" fill="none" stroke="#f8e294" stroke-width="0.8"/>
<path d="M366.1 346.1L369.2 340.5L363.0 340.5Z" fill="#f6da62"/>
<path d="M369.4 340.5L372.5 334.9L366.3 334.9Z" fill="#f6da62"/>
<path d="M372.7 335.5L375.8 330.0L369.6 330.0Z" fill="#f6da62"/>
<path d="M376.0 327.3L379.1 321.8L372.9 321.8Z" fill="#f6da62"/>
<path d="M379.3 328.1L382.4 322.6L376.2 322.6Z" fill="#f6da62"/>
<path d="M382.6 324.4L385.7 318.9L379.5 318.9Z" fill="#f6da62"/>
<path d="M385.9 323.3L389.0 317.7L382.8 317.7Z" fill="#f6da62"/>
<path d="M389.2 323.9L392.3 318.4L386.1 318.4Z" fill="#f6da62"/>
<path d="M392.5 323.4L395.6 317.8L389.4 317.8Z" fill="#f6da62"/>
<path d="M395.9 319.7L399.0 314.2L392.8 314.2Z" fill="#f6da62"/>
<polyline points="399.2,330.9 402.5,325.7 405.8,325.7 409.1,322.4 412.4,319.1 415.7,313.0 419.0,320.2 422.3,317.8 425.6,314.7 428.9,315.5" fill="none" stroke="#f8e294" stroke-width="0.8"/>
<path d="M399.2 334.0L402.3 328.5L396.1 328.5Z" fill="#f6da62"/>
<path d="M402.5 328.8L405.6 323.2L399.4 323.2Z" fill="#f6da62"/>
<path d="M405.8 328.8L408.9 323.2L402.7 323.2Z" fill="#f6da62"/>
<path d="M409.1 325.5L412.2 319.9L406.0 319.9Z" fill="#f6da62"/>
<path d="M412.4 322.2L415.5 316.6L409.3 316.6Z" fill="#f6da62"/>
<path d="M415.7 316.1L418.8 310.5L412.6 310.5Z" fill="#f6da62"/>
<path d="M419.0 323.3L422.1 317.7L415.9 317.7Z" fill="#f6da62"/>
<path d="M422.3 320.9L425.4 315.3L419.2 315.3Z" fill="#f6da62"/>
<path d="M425.6 317.8L428.7 312.2L422.5 312.2Z" fill="#f6da62"/>
<path d="M428.9 318.6L432.0 313.0L425.8 313.0Z" fill="#f6da62"/>
<polyline points="432.2,342.3 435.5,336.8 438.8,335.7 442.1,332.3 445.4,332.1 448.7,328.4 452.0,326.8 455.3,323.7 458.6,321.4 462.0,316.9" fill="none" stroke="#f8e294" stroke-width="0.8"/>
<path d="M432.2 345.4L435.3 339.8L429.1 339.8Z" fill="#f6da62"/>
<path d="M435.5 339.9L438.6 334.4L432.4 334.4Z" fill="#f6da62"/>
<path d="M438.8 338.8L441.9 333.3L435.7 333.3Z" fill="#f6da62"/>
<path d="M442.1 335.4L445.2 329.8L439.0 329.8Z" fill="#f6da62"/>
<path d="M445.4 335.2L448.5 329.6L442.3 329.6Z" fill="#f6da62"/>
<path d="M448.7 331.5L451.8 326.0L445.6 326.0Z" fill="#f6da62"/>
<path d="M452.0 329.9L455.1 324.3L448.9 324.3Z" fill="#f6da62"/>
<path d="M455.3 326.8L458.4 321.3L452.2 321.3Z" fill="#f6da62"/>
<path d="M458.6 324.5L461.7 318.9L455.5 318.9Z" fill="#f6da62"/>
<path d="M462.0 320.0L465.1 314.4L458.9 314.4Z" fill="#f6da62"/>
<polyline points="465.3,345.7 468.6,331.3 471.9,327.8 475.2,321.6 478.5,322.5 481.8,323.5 485.1,318.1 488.4,313.7 491.7,314.6 495.0,312.7" fill="none" stroke="#f8e294" stroke-width="0.8"/>
<path d="M465.3 348.8L468.4 343.2L462.2 343.2Z" fill="#f6da62"/>
<path d="M468.6 334.4L471.7 328.8L465.5 328.8Z" fill="#f6da62"/>
<path d="M471.9 330.9L475.0 325.4L468.8 325.4Z" fill="#f6da62"/>
<path d="M475.2 324.7L478.3 319.1L472.1 319.1Z" fill="#f6da62"/>
<path d="M478.5 325.6L481.6 320.0L475.4 320.0Z" fill="#f6da62"/>
<path d="M481.8 326.6L484.9 321.0L478.7 321.0Z" fill="#f6da62"/>
<path d="M485.1 321.2L488.2 315.6L482.0 315.6Z" fill="#f6da62"/>
<path d="M488.4 316.8L491.5 311.3L485.3 311.3Z" fill="#f6da62"/>
<path d="M491.7 317.7L494.8 312.2L488.6 312.2Z" fill="#f6da62"/>
<path d="M495.0 315.8L498.1 310.3L491.9 310.3Z" fill="#f6da62"/>
<polyline points="498.3,342.0 501.6,329.7 504.9,325.6 508.2,321.6 511.5,315.8 514.8,319.6 518.1,316.8 521.4,314.7 524.7,314.7 528.0,309.1" fill="none" stroke="#f8e294" stroke-width="0.8"/>
<path d="M498.3 345.1L501.4 339.6L495.2 339.6Z" fill="#f6da62"/>
<path d="M501.6 332.8L504.7 327.2L498.5 327.2Z" fill="#f6da62"/>
<path d="M504.9 328.7L508.0 323.1L501.8 323.1Z" fill="#f6da62"/>
<path d="M508.2 324.7L511.3 319.1L505.1 319.1Z" fill="#f6da62"/>
<path d="M511.5 318.9L514.6 313.3L508.4 313.3Z" fill="#f6da62"/>
<path d="M514.8 322.7L517.9 317.1L511.7 317.1Z" fill="#f6da62"/>
<path d="M518.1 319.9L521.2 314.3L515.0 314.3Z" fill="#f6da62"/>
<path d="M521.4 317.8L524.5 312.3L518.3 312.3Z" fill="#f6da62"/>
<path d="M524.7 317.8L527.8 312.2L521.6 312.2Z" fill="#f6da62"/>
<path d="M528.0 312.2L531.1 306.6L524.9 306.6Z" fill="#f6da62"/>
<polyline points="531.4,344.6 534.7,341.3 538.0,335.3 541.3,329.3 544.6,328.6 547.9,325.1 551.2,325.5 554.5,321.4 557.8,318.2 561.1,315.0" fill="none" stroke="#f8e294" stroke-width="0.8"/>
<path d="M531.4 347.7L534.5 342.1L528.3 342.1Z" fill="#f6da62"/>
<path d="M534.7 344.4L537.8 338.8L531.6 338.8Z" fill="#f6da62"/>
<path d="M538.0 338.4L541.1 332.8L534.9 332.8Z" fill="#f6da62"/>
<path d="M541.3 332.4L544.4 326.8L538.2 326.8Z" fill="#f6da62"/>
<path d="M544.6 331.7L547.7 326.2L541.5 326.2Z" fill="#f6da62"/>
<path d="M547.9 328.2L551.0 322.6L544.8 322.6Z" fill="#f6da62"/>
<path d="M551.2 328.6L554.3 323.0L548.1 323.0Z" fill="#f6da62"/>
<path d="M554.5 324.5L557.6 318.9L551.4 318.9Z" fill="#f6da62"/>
<path d="M557.8 321.3L560.9 315.7L554.7 315.7Z" fill="#f6da62"/>
<path d="M561.1 318.1L564.2 312.5L558.0 312.5Z" fill="#f6da62"/>
<polyline points="564.4,341.1 567.7,335.6 571.0,330.1 574.3,325.8 577.6,323.9 580.9,322.9 584.2,322.5 587.5,320.5 590.8,317.0 594.1,316.8" fill="none" stroke="#f8e294" stroke-width="0.8"/>
<path d="M564.4 344.2L567.5 338.7L561.3 338.7Z" fill="#f6da62"/>
<path d="M567.7 338.7L570.8 333.2L564.6 333.2Z" fill="#f6da62"/>
<path d="M571.0 333.2L574.1 327.7L567.9 327.7Z" fill="#f6da62"/>
<path d="M574.3 328.9L577.4 323.3L571.2 323.3Z" fill="#f6da62"/>
<path d="M577.6 327.0L580.7 321.4L574.5 321.4Z" fill="#f6da62"/>
<path d="M580.9 326.0L584.0 320.4L577.8 320.4Z" fill="#f6da62"/>
<path d="M584.2 325.6L587.3 320.0L581.1 320.0Z" fill="#f6da62"/>
<path d="M587.5 323.6L590.6 318.0L584.4 318.0Z" fill="#f6da62"/>
<path d="M590.8 320.1L593.9 314.5L587.7 314.5Z" fill="#f6da62"/>
<path d="M594.1 319.9L597.2 314.3L591.0 314.3Z" fill="#f6da62"/>
<polyline points="597.5,348.5 600.8,341.6 604.1,335.3 607.4,331.2 610.7,327.8 614.0,324.4 617.3,320.3 620.6,316.3 623.9,311.6" fill="none" stroke="#f8e294" stroke-width="0.8"/>
<path d="M597.5 351.6L600.6 346.0L594.4 346.0Z" fill="#f6da62"/>
<path d="M600.8 344.7L603.9 339.1L597.7 339.1Z" fill="#f6da62"/>
<path d="M604.1 338.4L607.2 332.8L601.0 332.8Z" fill="#f6da62"/>
<path d="M607.4 334.4L610.5 328.8L604.3 328.8Z" fill="#f6da62"/>
<path d="M610.7 330.9L613.8 325.3L607.6 325.3Z" fill="#f6da62"/>
<path d="M614.0 327.5L617.1 321.9L610.9 321.9Z" fill="#f6da62"/>
<path d="M617.3 323.4L620.4 317.8L614.2 317.8Z" fill="#f6da62"/>
<path d="M620.6 319.4L623.7 313.8L617.5 313.8Z" fill="#f6da62"/>
<path d="M623.9 314.7L627.0 309.1L620.8 309.1Z" fill="#f6da62"/>
<polyline points="233.9,352.3 237.2,346.6 240.5,339.5 243.8,330.7 247.1,326.0 250.4,317.8 253.7,313.9 257.0,306.5 260.3,283.6 263.6,270.6" fill="none" stroke="#f6b462" stroke-width="0.8"/>
<path d="M233.9 349.1L236.9 352.3L233.9 355.5L230.9 352.3Z" fill="#f3981c"/>
<path d="M237.2 343.4L240.2 346.6L237.2 349.8L234.2 346.6Z" fill="#f3981c"/>
<path d="M240.5 336.3L243.5 339.5L240.5 342.7L237.5 339.5Z" fill="#f3981c"/>
<path d="M243.8 327.5L246.8 330.7L243.8 333.9L240.8 330.7Z" fill="#f3981c"/>
<path d="M247.1 322.8L250.1 326.0L247.1 329.2L244.1 326.0Z" fill="#f3981c"/>
<path d="M250.4 314.6L253.4 317.8L250.4 321.0L247.4 317.8Z" fill="#f3981c"/>
<path d="M253.7 310.7L256.7 313.9L253.7 317.1L250.7 313.9Z" fill="#f3981c"/>
<path d="M257.0 303.3L260.0 306.5L257.0 309.7L254.0 306.5Z" fill="#f3981c"/>
<path d="M260.3 280.4L263.3 283.6L260.3 286.8L257.3 283.6Z" fill="#f3981c"/>
<path d="M263.6 267.4L266.6 270.6L263.6 273.8L260.6 270.6Z" fill="#f3981c"/>
<polyline points="267.0,353.8 270.3,346.3 273.6,336.0 276.9,330.1 280.2,324.4 283.5,317.8 286.8,312.4 290.1,287.7 293.4,246.6 296.7,229.5" fill="none" stroke="#f6b462" stroke-width="0.8"/>
<path d="M267.0 350.6L270.0 353.8L267.0 357.0L264.0 353.8Z" fill="#f3981c"/>
<path d="M270.3 343.1L273.3 346.3L270.3 349.5L267.3 346.3Z" fill="#f3981c"/>
<path d="M273.6 332.8L276.6 336.0L273.6 339.2L270.6 336.0Z" fill="#f3981c"/>
<path d="M276.9 326.9L279.9 330.1L276.9 333.3L273.9 330.1Z" fill="#f3981c"/>
<path d="M280.2 321.2L283.2 324.4L280.2 327.6L277.2 324.4Z" fill="#f3981c"/>
<path d="M283.5 314.6L286.5 317.8L283.5 321.0L280.5 317.8Z" fill="#f3981c"/>
<path d="M286.8 309.2L289.8 312.4L286.8 315.6L283.8 312.4Z" fill="#f3981c"/>
<path d="M290.1 284.5L293.1 287.7L290.1 290.9L287.1 287.7Z" fill="#f3981c"/>
<path d="M293.4 243.4L296.4 246.6L293.4 249.8L290.4 246.6Z" fill="#f3981c"/>
<path d="M296.7 226.3L299.7 229.5L296.7 232.7L293.7 229.5Z" fill="#f3981c"/>
<polyline points="300.0,353.9 303.3,347.9 306.6,334.3 309.9,329.7 313.2,324.8 316.5,317.6 319.8,313.0 323.1,277.3 326.4,218.7 329.8,191.8" fill="none" stroke="#f6b462" stroke-width="0.8"/>
<path d="M300.0 350.7L303.0 353.9L300.0 357.1L297.0 353.9Z" fill="#f3981c"/>
<path d="M303.3 344.7L306.3 347.9L303.3 351.1L300.3 347.9Z" fill="#f3981c"/>
<path d="M306.6 331.1L309.6 334.3L306.6 337.5L303.6 334.3Z" fill="#f3981c"/>
<path d="M309.9 326.5L312.9 329.7L309.9 332.9L306.9 329.7Z" fill="#f3981c"/>
<path d="M313.2 321.6L316.2 324.8L313.2 328.0L310.2 324.8Z" fill="#f3981c"/>
<path d="M316.5 314.4L319.5 317.6L316.5 320.8L313.5 317.6Z" fill="#f3981c"/>
<path d="M319.8 309.8L322.8 313.0L319.8 316.2L316.8 313.0Z" fill="#f3981c"/>
<path d="M323.1 274.1L326.1 277.3L323.1 280.5L320.1 277.3Z" fill="#f3981c"/>
<path d="M326.4 215.5L329.4 218.7L326.4 221.9L323.4 218.7Z" fill="#f3981c"/>
<path d="M329.8 188.6L332.8 191.8L329.8 195.0L326.8 191.8Z" fill="#f3981c"/>
<polyline points="333.1,353.9 336.4,346.0 339.7,340.1 343.0,332.7 346.3,327.8 349.6,324.4 352.9,322.1 356.2,308.9 359.5,304.7 362.8,288.9" fill="none" stroke="#f6b462" stroke-width="0.8"/>
<path d="M333.1 350.7L336.1 353.9L333.1 357.1L330.1 353.9Z" fill="#f3981c"/>
<path d="M336.4 342.8L339.4 346.0L336.4 349.2L333.4 346.0Z" fill="#f3981c"/>
<path d="M339.7 336.9L342.7 340.1L339.7 343.3L336.7 340.1Z" fill="#f3981c"/>
<path d="M343.0 329.5L346.0 332.7L343.0 335.9L340.0 332.7Z" fill="#f3981c"/>
<path d="M346.3 324.6L349.3 327.8L346.3 331.0L343.3 327.8Z" fill="#f3981c"/>
<path d="M349.6 321.2L352.6 324.4L349.6 327.6L346.6 324.4Z" fill="#f3981c"/>
<path d="M352.9 318.9L355.9 322.1L352.9 325.2L349.9 322.1Z" fill="#f3981c"/>
<path d="M356.2 305.7L359.2 308.9L356.2 312.1L353.2 308.9Z" fill="#f3981c"/>
<path d="M359.5 301.5L362.5 304.7L359.5 307.9L356.5 304.7Z" fill="#f3981c"/>
<path d="M362.8 285.7L365.8 288.9L362.8 292.1L359.8 288.9Z" fill="#f3981c"/>
<polyline points="366.1,353.6 369.4,347.4 372.7,337.5 376.0,331.6 379.3,325.6 382.6,312.0 385.9,308.4 389.2,288.5 392.5,270.2 395.9,262.1" fill="none" stroke="#f6b462" stroke-width="0.8"/>
<path d="M366.1 350.4L369.1 353.6L366.1 356.8L363.1 353.6Z" fill="#f3981c"/>
<path d="M369.4 344.2L372.4 347.4L369.4 350.6L366.4 347.4Z" fill="#f3981c"/>
<path d="M372.7 334.3L375.7 337.5L372.7 340.7L369.7 337.5Z" fill="#f3981c"/>
<path d="M376.0 328.4L379.0 331.6L376.0 334.8L373.0 331.6Z" fill="#f3981c"/>
<path d="M379.3 322.4L382.3 325.6L379.3 328.8L376.3 325.6Z" fill="#f3981c"/>
<path d="M382.6 308.8L385.6 312.0L382.6 315.2L379.6 312.0Z" fill="#f3981c"/>
<path d="M385.9 305.2L388.9 308.4L385.9 311.6L382.9 308.4Z" fill="#f3981c"/>
<path d="M389.2 285.3L392.2 288.5L389.2 291.7L386.2 288.5Z" fill="#f3981c"/>
<path d="M392.5 267.0L395.5 270.2L392.5 273.4L389.5 270.2Z" fill="#f3981c"/>
<path d="M395.9 258.9L398.9 262.1L395.9 265.3L392.9 262.1Z" fill="#f3981c"/>
<polyline points="399.2,352.3 402.5,346.9 405.8,330.8 409.1,324.2 412.4,316.3 415.7,293.6 419.0,299.1 422.3,284.7 425.6,257.0 428.9,205.6" fill="none" stroke="#f6b462" stroke-width="0.8"/>
<path d="M399.2 349.1L402.2 352.3L399.2 355.5L396.2 352.3Z" fill="#f3981c"/>
<path d="M402.5 343.7L405.5 346.9L402.5 350.1L399.5 346.9Z" fill="#f3981c"/>
<path d="M405.8 327.6L408.8 330.8L405.8 334.0L402.8 330.8Z" fill="#f3981c"/>
<path d="M409.1 321.0L412.1 324.2L409.1 327.4L406.1 324.2Z" fill="#f3981c"/>
<path d="M412.4 313.1L415.4 316.3L412.4 319.5L409.4 316.3Z" fill="#f3981c"/>
<path d="M415.7 290.4L418.7 293.6L415.7 296.8L412.7 293.6Z" fill="#f3981c"/>
<path d="M419.0 295.9L422.0 299.1L419.0 302.2L416.0 299.1Z" fill="#f3981c"/>
<path d="M422.3 281.5L425.3 284.7L422.3 287.9L419.3 284.7Z" fill="#f3981c"/>
<path d="M425.6 253.8L428.6 257.0L425.6 260.2L422.6 257.0Z" fill="#f3981c"/>
<path d="M428.9 202.4L431.9 205.6L428.9 208.8L425.9 205.6Z" fill="#f3981c"/>
<polyline points="432.2,353.3 435.5,346.6 438.8,338.7 442.1,330.9 445.4,325.1 448.7,318.3 452.0,313.4 455.3,297.8 458.6,272.0 462.0,238.4" fill="none" stroke="#f6b462" stroke-width="0.8"/>
<path d="M432.2 350.1L435.2 353.3L432.2 356.5L429.2 353.3Z" fill="#f3981c"/>
<path d="M435.5 343.4L438.5 346.6L435.5 349.8L432.5 346.6Z" fill="#f3981c"/>
<path d="M438.8 335.5L441.8 338.7L438.8 341.9L435.8 338.7Z" fill="#f3981c"/>
<path d="M442.1 327.7L445.1 330.9L442.1 334.1L439.1 330.9Z" fill="#f3981c"/>
<path d="M445.4 321.9L448.4 325.1L445.4 328.3L442.4 325.1Z" fill="#f3981c"/>
<path d="M448.7 315.1L451.7 318.3L448.7 321.5L445.7 318.3Z" fill="#f3981c"/>
<path d="M452.0 310.2L455.0 313.4L452.0 316.6L449.0 313.4Z" fill="#f3981c"/>
<path d="M455.3 294.6L458.3 297.8L455.3 301.0L452.3 297.8Z" fill="#f3981c"/>
<path d="M458.6 268.8L461.6 272.0L458.6 275.2L455.6 272.0Z" fill="#f3981c"/>
<path d="M462.0 235.2L465.0 238.4L462.0 241.6L459.0 238.4Z" fill="#f3981c"/>
<polyline points="465.3,353.7 468.6,347.5 471.9,331.1 475.2,326.6 478.5,326.0 481.8,301.2 485.1,296.5 488.4,256.8 491.7,222.0 495.0,143.8" fill="none" stroke="#f6b462" stroke-width="0.8"/>
<path d="M465.3 350.5L468.3 353.7L465.3 356.9L462.3 353.7Z" fill="#f3981c"/>
<path d="M468.6 344.3L471.6 347.5L468.6 350.7L465.6 347.5Z" fill="#f3981c"/>
<path d="M471.9 327.9L474.9 331.1L471.9 334.3L468.9 331.1Z" fill="#f3981c"/>
<path d="M475.2 323.4L478.2 326.6L475.2 329.8L472.2 326.6Z" fill="#f3981c"/>
<path d="M478.5 322.8L481.5 326.0L478.5 329.2L475.5 326.0Z" fill="#f3981c"/>
<path d="M481.8 298.0L484.8 301.2L481.8 304.4L478.8 301.2Z" fill="#f3981c"/>
<path d="M485.1 293.3L488.1 296.5L485.1 299.7L482.1 296.5Z" fill="#f3981c"/>
<path d="M488.4 253.6L491.4 256.8L488.4 260.0L485.4 256.8Z" fill="#f3981c"/>
<path d="M491.7 218.8L494.7 222.0L491.7 225.2L488.7 222.0Z" fill="#f3981c"/>
<path d="M495.0 140.6L498.0 143.8L495.0 147.0L492.0 143.8Z" fill="#f3981c"/>
<polyline points="498.3,353.7 501.6,346.7 504.9,328.5 508.2,324.8 511.5,320.2 514.8,280.9 518.1,299.9 521.4,242.4 524.7,173.4 528.0,61.2" fill="none" stroke="#f6b462" stroke-width="0.8"/>
<path d="M498.3 350.5L501.3 353.7L498.3 356.9L495.3 353.7Z" fill="#f3981c"/>
<path d="M501.6 343.5L504.6 346.7L501.6 349.9L498.6 346.7Z" fill="#f3981c"/>
<path d="M504.9 325.3L507.9 328.5L504.9 331.7L501.9 328.5Z" fill="#f3981c"/>
<path d="M508.2 321.6L511.2 324.8L508.2 328.0L505.2 324.8Z" fill="#f3981c"/>
<path d="M511.5 317.0L514.5 320.2L511.5 323.4L508.5 320.2Z" fill="#f3981c"/>
<path d="M514.8 277.7L517.8 280.9L514.8 284.1L511.8 280.9Z" fill="#f3981c"/>
<path d="M518.1 296.7L521.1 299.9L518.1 303.1L515.1 299.9Z" fill="#f3981c"/>
<path d="M521.4 239.2L524.4 242.4L521.4 245.6L518.4 242.4Z" fill="#f3981c"/>
<path d="M524.7 170.2L527.7 173.4L524.7 176.6L521.7 173.4Z" fill="#f3981c"/>
<path d="M528.0 58.0L531.0 61.2L528.0 64.4L525.0 61.2Z" fill="#f3981c"/>
<polyline points="531.4,354.2 534.7,347.8 538.0,338.3 541.3,332.4 544.6,325.7 547.9,319.6 551.2,312.6 554.5,305.1 557.8,266.9 561.1,216.2" fill="none" stroke="#f6b462" stroke-width="0.8"/>
<path d="M531.4 351.0L534.4 354.2L531.4 357.4L528.4 354.2Z" fill="#f3981c"/>
<path d="M534.7 344.6L537.7 347.8L534.7 351.0L531.7 347.8Z" fill="#f3981c"/>
<path d="M538.0 335.1L541.0 338.3L538.0 341.5L535.0 338.3Z" fill="#f3981c"/>
<path d="M541.3 329.2L544.3 332.4L541.3 335.6L538.3 332.4Z" fill="#f3981c"/>
<path d="M544.6 322.5L547.6 325.7L544.6 328.9L541.6 325.7Z" fill="#f3981c"/>
<path d="M547.9 316.4L550.9 319.6L547.9 322.8L544.9 319.6Z" fill="#f3981c"/>
<path d="M551.2 309.4L554.2 312.6L551.2 315.8L548.2 312.6Z" fill="#f3981c"/>
<path d="M554.5 301.9L557.5 305.1L554.5 308.3L551.5 305.1Z" fill="#f3981c"/>
<path d="M557.8 263.7L560.8 266.9L557.8 270.1L554.8 266.9Z" fill="#f3981c"/>
<path d="M561.1 213.1L564.1 216.2L561.1 219.4L558.1 216.2Z" fill="#f3981c"/>
<polyline points="564.4,353.7 567.7,345.7 571.0,336.9 574.3,330.5 577.6,324.6 580.9,319.6 584.2,307.1 587.5,271.6 590.8,248.6 594.1,176.5" fill="none" stroke="#f6b462" stroke-width="0.8"/>
<path d="M564.4 350.5L567.4 353.7L564.4 356.9L561.4 353.7Z" fill="#f3981c"/>
<path d="M567.7 342.5L570.7 345.7L567.7 348.9L564.7 345.7Z" fill="#f3981c"/>
<path d="M571.0 333.7L574.0 336.9L571.0 340.1L568.0 336.9Z" fill="#f3981c"/>
<path d="M574.3 327.3L577.3 330.5L574.3 333.7L571.3 330.5Z" fill="#f3981c"/>
<path d="M577.6 321.4L580.6 324.6L577.6 327.8L574.6 324.6Z" fill="#f3981c"/>
<path d="M580.9 316.4L583.9 319.6L580.9 322.8L577.9 319.6Z" fill="#f3981c"/>
<path d="M584.2 303.9L587.2 307.1L584.2 310.3L581.2 307.1Z" fill="#f3981c"/>
<path d="M587.5 268.4L590.5 271.6L587.5 274.8L584.5 271.6Z" fill="#f3981c"/>
<path d="M590.8 245.4L593.8 248.6L590.8 251.8L587.8 248.6Z" fill="#f3981c"/>
<path d="M594.1 173.3L597.1 176.5L594.1 179.7L591.1 176.5Z" fill="#f3981c"/>
<polyline points="597.5,354.3 600.8,347.3 604.1,325.0 607.4,325.5 610.7,324.4 614.0,302.0 617.3,302.0 620.6,236.9 623.9,196.6" fill="none" stroke="#f6b462" stroke-width="0.8"/>
<path d="M597.5 351.1L600.5 354.3L597.5 357.5L594.5 354.3Z" fill="#f3981c"/>
<path d="M600.8 344.1L603.8 347.3L600.8 350.5L597.8 347.3Z" fill="#f3981c"/>
<path d="M604.1 321.8L607.1 325.0L604.1 328.2L601.1 325.0Z" fill="#f3981c"/>
<path d="M607.4 322.3L610.4 325.5L607.4 328.7L604.4 325.5Z" fill="#f3981c"/>
<path d="M610.7 321.2L613.7 324.4L610.7 327.6L607.7 324.4Z" fill="#f3981c"/>
<path d="M614.0 298.8L617.0 302.0L614.0 305.2L611.0 302.0Z" fill="#f3981c"/>
<path d="M617.3 298.8L620.3 302.0L617.3 305.2L614.3 302.0Z" fill="#f3981c"/>
<path d="M620.6 233.8L623.6 236.9L620.6 240.1L617.6 236.9Z" fill="#f3981c"/>
<path d="M623.9 193.4L626.9 196.6L623.9 199.8L620.9 196.6Z" fill="#f3981c"/>
<polyline points="233.9,345.7 237.2,339.3 240.5,331.3 243.8,327.5 247.1,322.5 250.4,322.5 253.7,326.1 257.0,318.3 260.3,317.0 263.6,314.3" fill="none" stroke="#d08848" stroke-width="0.8"/>
<path d="M230.8 345.7L236.4 342.6L236.4 348.8Z" fill="#bf5e0c"/>
<path d="M234.1 339.3L239.7 336.2L239.7 342.4Z" fill="#bf5e0c"/>
<path d="M237.4 331.3L243.0 328.2L243.0 334.4Z" fill="#bf5e0c"/>
<path d="M240.7 327.5L246.3 324.4L246.3 330.6Z" fill="#bf5e0c"/>
<path d="M244.0 322.5L249.6 319.4L249.6 325.6Z" fill="#bf5e0c"/>
<path d="M247.3 322.5L252.9 319.4L252.9 325.6Z" fill="#bf5e0c"/>
<path d="M250.6 326.1L256.2 323.0L256.2 329.2Z" fill="#bf5e0c"/>
<path d="M253.9 318.3L259.5 315.2L259.5 321.4Z" fill="#bf5e0c"/>
<path d="M257.2 317.0L262.8 313.9L262.8 320.1Z" fill="#bf5e0c"/>
<path d="M260.5 314.3L266.1 311.2L266.1 317.4Z" fill="#bf5e0c"/>
<polyline points="267.0,342.5 270.3,330.2 273.6,325.3 276.9,319.3 280.2,313.4 283.5,319.1 286.8,312.6 290.1,311.8 293.4,309.4 296.7,308.3" fill="none" stroke="#d08848" stroke-width="0.8"/>
<path d="M263.9 342.5L269.4 339.4L269.4 345.6Z" fill="#bf5e0c"/>
<path d="M267.2 330.2L272.7 327.1L272.7 333.3Z" fill="#bf5e0c"/>
<path d="M270.5 325.3L276.0 322.2L276.0 328.4Z" fill="#bf5e0c"/>
<path d="M273.8 319.3L279.4 316.2L279.4 322.4Z" fill="#bf5e0c"/>
<path d="M277.1 313.4L282.7 310.3L282.7 316.5Z" fill="#bf5e0c"/>
<path d="M280.4 319.1L286.0 316.0L286.0 322.2Z" fill="#bf5e0c"/>
<path d="M283.7 312.6L289.3 309.5L289.3 315.7Z" fill="#bf5e0c"/>
<path d="M287.0 311.8L292.6 308.7L292.6 314.9Z" fill="#bf5e0c"/>
<path d="M290.3 309.4L295.9 306.3L295.9 312.5Z" fill="#bf5e0c"/>
<path d="M293.6 308.3L299.2 305.2L299.2 311.4Z" fill="#bf5e0c"/>
<polyline points="300.0,338.1 303.3,328.0 306.6,323.2 309.9,318.5 313.2,316.0 316.5,316.9 319.8,314.8 323.1,312.0 326.4,310.4 329.8,307.2" fill="none" stroke="#d08848" stroke-width="0.8"/>
<path d="M296.9 338.1L302.5 335.0L302.5 341.2Z" fill="#bf5e0c"/>
<path d="M300.2 328.0L305.8 324.9L305.8 331.1Z" fill="#bf5e0c"/>
<path d="M303.5 323.2L309.1 320.1L309.1 326.3Z" fill="#bf5e0c"/>
<path d="M306.8 318.5L312.4 315.4L312.4 321.6Z" fill="#bf5e0c"/>
<path d="M310.1 316.0L315.7 312.9L315.7 319.1Z" fill="#bf5e0c"/>
<path d="M313.4 316.9L319.0 313.8L319.0 320.0Z" fill="#bf5e0c"/>
<path d="M316.7 314.8L322.3 311.7L322.3 317.9Z" fill="#bf5e0c"/>
<path d="M320.0 312.0L325.6 308.9L325.6 315.1Z" fill="#bf5e0c"/>
<path d="M323.3 310.4L328.9 307.3L328.9 313.5Z" fill="#bf5e0c"/>
<path d="M326.6 307.2L332.2 304.1L332.2 310.3Z" fill="#bf5e0c"/>
<polyline points="333.1,344.1 336.4,334.0 339.7,328.9 343.0,323.1 346.3,322.0 349.6,322.6 352.9,321.1 356.2,320.2 359.5,319.3 362.8,319.4" fill="none" stroke="#d08848" stroke-width="0.8"/>
<path d="M330.0 344.1L335.5 341.0L335.5 347.2Z" fill="#bf5e0c"/>
<path d="M333.3 334.0L338.8 330.9L338.8 337.1Z" fill="#bf5e0c"/>
<path d="M336.6 328.9L342.1 325.8L342.1 332.0Z" fill="#bf5e0c"/>
<path d="M339.9 323.1L345.5 320.0L345.5 326.2Z" fill="#bf5e0c"/>
<path d="M343.2 322.0L348.8 318.9L348.8 325.1Z" fill="#bf5e0c"/>
<path d="M346.5 322.6L352.1 319.5L352.1 325.7Z" fill="#bf5e0c"/>
<path d="M349.8 321.1L355.4 318.0L355.4 324.2Z" fill="#bf5e0c"/>
<path d="M353.1 320.2L358.7 317.1L358.7 323.3Z" fill="#bf5e0c"/>
<path d="M356.4 319.3L362.0 316.2L362.0 322.4Z" fill="#bf5e0c"/>
<path d="M359.7 319.4L365.3 316.3L365.3 322.5Z" fill="#bf5e0c"/>
<polyline points="366.1,341.6 369.4,333.4 372.7,326.0 376.0,320.0 379.3,319.1 382.6,317.2 385.9,316.7 389.2,315.2 392.5,314.6 395.9,313.0" fill="none" stroke="#d08848" stroke-width="0.8"/>
<path d="M363.0 341.6L368.6 338.5L368.6 344.7Z" fill="#bf5e0c"/>
<path d="M366.3 333.4L371.9 330.3L371.9 336.5Z" fill="#bf5e0c"/>
<path d="M369.6 326.0L375.2 322.9L375.2 329.1Z" fill="#bf5e0c"/>
<path d="M372.9 320.0L378.5 316.9L378.5 323.1Z" fill="#bf5e0c"/>
<path d="M376.2 319.1L381.8 316.0L381.8 322.2Z" fill="#bf5e0c"/>
<path d="M379.5 317.2L385.1 314.1L385.1 320.3Z" fill="#bf5e0c"/>
<path d="M382.8 316.7L388.4 313.6L388.4 319.8Z" fill="#bf5e0c"/>
<path d="M386.1 315.2L391.7 312.1L391.7 318.3Z" fill="#bf5e0c"/>
<path d="M389.4 314.6L395.0 311.5L395.0 317.7Z" fill="#bf5e0c"/>
<path d="M392.8 313.0L398.3 309.9L398.3 316.1Z" fill="#bf5e0c"/>
<polyline points="399.2,328.1 402.5,321.6 405.8,320.7 409.1,318.6 412.4,313.5 415.7,309.2 419.0,314.9 422.3,312.6 425.6,309.5 428.9,308.4" fill="none" stroke="#d08848" stroke-width="0.8"/>
<path d="M396.1 328.1L401.6 325.0L401.6 331.2Z" fill="#bf5e0c"/>
<path d="M399.4 321.6L404.9 318.5L404.9 324.7Z" fill="#bf5e0c"/>
<path d="M402.7 320.7L408.2 317.6L408.2 323.8Z" fill="#bf5e0c"/>
<path d="M406.0 318.6L411.6 315.5L411.6 321.7Z" fill="#bf5e0c"/>
<path d="M409.3 313.5L414.9 310.4L414.9 316.6Z" fill="#bf5e0c"/>
<path d="M412.6 309.2L418.2 306.1L418.2 312.3Z" fill="#bf5e0c"/>
<path d="M415.9 314.9L421.5 311.8L421.5 318.0Z" fill="#bf5e0c"/>
<path d="M419.2 312.6L424.8 309.5L424.8 315.7Z" fill="#bf5e0c"/>
<path d="M422.5 309.5L428.1 306.4L428.1 312.6Z" fill="#bf5e0c"/>
<path d="M425.8 308.4L431.4 305.3L431.4 311.5Z" fill="#bf5e0c"/>
<polyline points="432.2,340.2 435.5,334.6 438.8,330.5 442.1,324.5 445.4,324.3 448.7,321.8 452.0,318.8 455.3,316.3 458.6,313.4 462.0,311.1" fill="none" stroke="#d08848" stroke-width="0.8"/>
<path d="M429.1 340.2L434.7 337.1L434.7 343.3Z" fill="#bf5e0c"/>
<path d="M432.4 334.6L438.0 331.5L438.0 337.7Z" fill="#bf5e0c"/>
<path d="M435.7 330.5L441.3 327.4L441.3 333.6Z" fill="#bf5e0c"/>
<path d="M439.0 324.5L444.6 321.4L444.6 327.6Z" fill="#bf5e0c"/>
<path d="M442.3 324.3L447.9 321.2L447.9 327.4Z" fill="#bf5e0c"/>
<path d="M445.6 321.8L451.2 318.7L451.2 324.9Z" fill="#bf5e0c"/>
<path d="M448.9 318.8L454.5 315.7L454.5 321.9Z" fill="#bf5e0c"/>
<path d="M452.2 316.3L457.8 313.2L457.8 319.4Z" fill="#bf5e0c"/>
<path d="M455.5 313.4L461.1 310.3L461.1 316.5Z" fill="#bf5e0c"/>
<path d="M458.9 311.1L464.4 308.0L464.4 314.2Z" fill="#bf5e0c"/>
<polyline points="465.3,342.0 468.6,326.5 471.9,319.7 475.2,316.2 478.5,315.2 481.8,315.7 485.1,311.4 488.4,308.8 491.7,309.4 495.0,305.4" fill="none" stroke="#d08848" stroke-width="0.8"/>
<path d="M462.2 342.0L467.7 338.9L467.7 345.1Z" fill="#bf5e0c"/>
<path d="M465.5 326.5L471.0 323.4L471.0 329.6Z" fill="#bf5e0c"/>
<path d="M468.8 319.7L474.3 316.6L474.3 322.8Z" fill="#bf5e0c"/>
<path d="M472.1 316.2L477.7 313.1L477.7 319.3Z" fill="#bf5e0c"/>
<path d="M475.4 315.2L481.0 312.1L481.0 318.3Z" fill="#bf5e0c"/>
<path d="M478.7 315.7L484.3 312.6L484.3 318.8Z" fill="#bf5e0c"/>
<path d="M482.0 311.4L487.6 308.3L487.6 314.5Z" fill="#bf5e0c"/>
<path d="M485.3 308.8L490.9 305.7L490.9 311.9Z" fill="#bf5e0c"/>
<path d="M488.6 309.4L494.2 306.3L494.2 312.5Z" fill="#bf5e0c"/>
<path d="M491.9 305.4L497.5 302.3L497.5 308.5Z" fill="#bf5e0c"/>
<polyline points="498.3,339.7 501.6,324.6 504.9,318.6 508.2,313.4 511.5,308.4 514.8,311.4 518.1,311.2 521.4,308.5 524.7,307.1 528.0,302.6" fill="none" stroke="#d08848" stroke-width="0.8"/>
<path d="M495.2 339.7L500.8 336.6L500.8 342.8Z" fill="#bf5e0c"/>
<path d="M498.5 324.6L504.1 321.5L504.1 327.7Z" fill="#bf5e0c"/>
<path d="M501.8 318.6L507.4 315.5L507.4 321.7Z" fill="#bf5e0c"/>
<path d="M505.1 313.4L510.7 310.3L510.7 316.5Z" fill="#bf5e0c"/>
<path d="M508.4 308.4L514.0 305.3L514.0 311.5Z" fill="#bf5e0c"/>
<path d="M511.7 311.4L517.3 308.3L517.3 314.5Z" fill="#bf5e0c"/>
<path d="M515.0 311.2L520.6 308.1L520.6 314.3Z" fill="#bf5e0c"/>
<path d="M518.3 308.5L523.9 305.4L523.9 311.6Z" fill="#bf5e0c"/>
<path d="M521.6 307.1L527.2 304.0L527.2 310.2Z" fill="#bf5e0c"/>
<path d="M524.9 302.6L530.5 299.5L530.5 305.7Z" fill="#bf5e0c"/>
<polyline points="531.4,344.0 534.7,337.6 538.0,327.9 541.3,324.6 544.6,321.5 547.9,318.1 551.2,317.2 554.5,314.6 557.8,311.7 561.1,308.5" fill="none" stroke="#d08848" stroke-width="0.8"/>
<path d="M528.3 344.0L533.8 340.9L533.8 347.1Z" fill="#bf5e0c"/>
<path d="M531.6 337.6L537.1 334.5L537.1 340.7Z" fill="#bf5e0c"/>
<path d="M534.9 327.9L540.4 324.8L540.4 331.0Z" fill="#bf5e0c"/>
<path d="M538.2 324.6L543.8 321.5L543.8 327.7Z" fill="#bf5e0c"/>
<path d="M541.5 321.5L547.1 318.4L547.1 324.6Z" fill="#bf5e0c"/>
<path d="M544.8 318.1L550.4 315.0L550.4 321.2Z" fill="#bf5e0c"/>
<path d="M548.1 317.2L553.7 314.1L553.7 320.3Z" fill="#bf5e0c"/>
<path d="M551.4 314.6L557.0 311.5L557.0 317.7Z" fill="#bf5e0c"/>
<path d="M554.7 311.7L560.3 308.6L560.3 314.8Z" fill="#bf5e0c"/>
<path d="M558.0 308.5L563.6 305.4L563.6 311.6Z" fill="#bf5e0c"/>
<polyline points="564.4,340.0 567.7,332.0 571.0,325.1 574.3,320.0 577.6,318.2 580.9,315.5 584.2,314.3 587.5,312.7 590.8,310.0 594.1,308.9" fill="none" stroke="#d08848" stroke-width="0.8"/>
<path d="M561.3 340.0L566.9 336.9L566.9 343.1Z" fill="#bf5e0c"/>
<path d="M564.6 332.0L570.2 328.9L570.2 335.1Z" fill="#bf5e0c"/>
<path d="M567.9 325.1L573.5 322.0L573.5 328.2Z" fill="#bf5e0c"/>
<path d="M571.2 320.0L576.8 316.9L576.8 323.1Z" fill="#bf5e0c"/>
<path d="M574.5 318.2L580.1 315.1L580.1 321.3Z" fill="#bf5e0c"/>
<path d="M577.8 315.5L583.4 312.4L583.4 318.6Z" fill="#bf5e0c"/>
<path d="M581.1 314.3L586.7 311.2L586.7 317.4Z" fill="#bf5e0c"/>
<path d="M584.4 312.7L590.0 309.6L590.0 315.8Z" fill="#bf5e0c"/>
<path d="M587.7 310.0L593.3 306.9L593.3 313.1Z" fill="#bf5e0c"/>
<path d="M591.0 308.9L596.6 305.8L596.6 312.0Z" fill="#bf5e0c"/>
<polyline points="597.5,333.0 600.8,322.0 604.1,314.6 607.4,313.9 610.7,315.1 614.0,315.1 617.3,316.2 620.6,306.4 623.9,305.8" fill="none" stroke="#d08848" stroke-width="0.8"/>
<path d="M594.4 333.0L599.9 329.9L599.9 336.1Z" fill="#bf5e0c"/>
<path d="M597.7 322.0L603.2 318.9L603.2 325.1Z" fill="#bf5e0c"/>
<path d="M601.0 314.6L606.5 311.5L606.5 317.7Z" fill="#bf5e0c"/>
<path d="M604.3 313.9L609.9 310.8L609.9 317.0Z" fill="#bf5e0c"/>
<path d="M607.6 315.1L613.2 312.0L613.2 318.2Z" fill="#bf5e0c"/>
<path d="M610.9 315.1L616.5 312.0L616.5 318.2Z" fill="#bf5e0c"/>
<path d="M614.2 316.2L619.8 313.1L619.8 319.3Z" fill="#bf5e0c"/>
<path d="M617.5 306.4L623.1 303.3L623.1 309.5Z" fill="#bf5e0c"/>
<path d="M620.8 305.8L626.4 302.7L626.4 308.9Z" fill="#bf5e0c"/>
<line x1="331.2" y1="41" x2="331.2" y2="390" stroke="#161616" stroke-width="1.3" stroke-dasharray="7.2 7.2" stroke-dashoffset="2.7"/>
<line x1="430.1" y1="41" x2="430.1" y2="390" stroke="#161616" stroke-width="1.3" stroke-dasharray="7.2 7.2" stroke-dashoffset="2.7"/>
<line x1="530.0" y1="41" x2="530.0" y2="390" stroke="#161616" stroke-width="1.3" stroke-dasharray="7.2 7.2" stroke-dashoffset="2.7"/>
<g stroke="#333" stroke-width="1.4" fill="none">
<path d="M197.5 16.5V390.8H661.4"/>
<path d="M190.9 362.3H197.5"/>
<path d="M190.9 304.8H197.5"/>
<path d="M190.9 247.3H197.5"/>
<path d="M190.9 189.8H197.5"/>
<path d="M190.9 132.3H197.5"/>
<path d="M190.9 74.8H197.5"/>
<path d="M190.9 17.3H197.5"/>
<path d="M194.0 391.1H197.5"/>
<path d="M194.0 333.6H197.5"/>
<path d="M194.0 276.1H197.5"/>
<path d="M194.0 218.6H197.5"/>
<path d="M194.0 161.1H197.5"/>
<path d="M194.0 103.6H197.5"/>
<path d="M194.0 46.1H197.5"/>
<path d="M230.6 390.8V397.40000000000003"/>
<path d="M296.7 390.8V397.40000000000003"/>
<path d="M362.8 390.8V397.40000000000003"/>
<path d="M428.9 390.8V397.40000000000003"/>
<path d="M495.0 390.8V397.40000000000003"/>
<path d="M561.1 390.8V397.40000000000003"/>
<path d="M627.2 390.8V397.40000000000003"/>
<path d="M197.5 390.8V394.3"/>
<path d="M263.6 390.8V394.3"/>
<path d="M329.8 390.8V394.3"/>
<path d="M395.9 390.8V394.3"/>
<path d="M462.0 390.8V394.3"/>
<path d="M528.0 390.8V394.3"/>
<path d="M594.1 390.8V394.3"/>
<path d="M660.2 390.8V394.3"/>
</g>
<g font-family="'Liberation Serif', serif" font-size="16" fill="#1c1c1c" stroke="#1c1c1c" stroke-width="0.15">
<text x="185.1" y="367.2" text-anchor="end" letter-spacing="0.6">0</text>
<text x="185.1" y="309.7" text-anchor="end" letter-spacing="0.6">500</text>
<text x="185.1" y="252.2" text-anchor="end" letter-spacing="0.6">1000</text>
<text x="185.1" y="194.7" text-anchor="end" letter-spacing="0.6">1500</text>
<text x="185.1" y="137.2" text-anchor="end" letter-spacing="0.6">2000</text>
<text x="185.1" y="79.7" text-anchor="end" letter-spacing="0.6">2500</text>
<text x="185.1" y="22.2" text-anchor="end" letter-spacing="0.6">3000</text>
<text x="230.6" y="416" text-anchor="middle">0</text>
<text x="296.7" y="416" text-anchor="middle">20</text>
<text x="362.8" y="416" text-anchor="middle">40</text>
<text x="428.9" y="416" text-anchor="middle">60</text>
<text x="495.0" y="416" text-anchor="middle">80</text>
<text x="561.1" y="416" text-anchor="middle">100</text>
<text x="627.2" y="416" text-anchor="middle">120</text>
</g>
<g font-family="'Liberation Serif', serif" font-size="13.6" font-weight="bold" fill="#1a1a1a" stroke="#1a1a1a" stroke-width="0.2">
<text y="34.1"><tspan x="235.3" font-style="italic" font-size="13.6" textLength="8.7" lengthAdjust="spacingAndGlyphs">T</tspan><tspan x="243.0" dy="3.3" font-size="10.8">o</tspan> <tspan x="253.2" dy="-3.3" textLength="8.8" lengthAdjust="spacingAndGlyphs">=</tspan> <tspan x="267.1" textLength="13.8" lengthAdjust="spacingAndGlyphs">70</tspan> <tspan x="284.8" textLength="13.6" lengthAdjust="spacingAndGlyphs">°C</tspan></text>
<text y="34.1"><tspan x="350.5" font-style="italic" font-size="13.6" textLength="8.7" lengthAdjust="spacingAndGlyphs">T</tspan><tspan x="358.2" dy="3.3" font-size="10.8">o</tspan> <tspan x="368.4" dy="-3.3" textLength="8.8" lengthAdjust="spacingAndGlyphs">=</tspan> <tspan x="382.3" textLength="13.8" lengthAdjust="spacingAndGlyphs">80</tspan> <tspan x="400.0" textLength="13.6" lengthAdjust="spacingAndGlyphs">°C</tspan></text>
<text y="34.1"><tspan x="447.9" font-style="italic" font-size="13.6" textLength="8.7" lengthAdjust="spacingAndGlyphs">T</tspan><tspan x="455.6" dy="3.3" font-size="10.8">o</tspan> <tspan x="465.8" dy="-3.3" textLength="8.8" lengthAdjust="spacingAndGlyphs">=</tspan> <tspan x="479.7" textLength="13.8" lengthAdjust="spacingAndGlyphs">90</tspan> <tspan x="497.4" textLength="13.6" lengthAdjust="spacingAndGlyphs">°C</tspan></text>
<text y="34.1"><tspan x="539.2" font-style="italic" font-size="13.6" textLength="8.7" lengthAdjust="spacingAndGlyphs">T</tspan><tspan x="546.9" dy="3.3" font-size="10.8">o</tspan> <tspan x="557.1" dy="-3.3" textLength="8.8" lengthAdjust="spacingAndGlyphs">=</tspan> <tspan x="571.0" textLength="20.7" lengthAdjust="spacingAndGlyphs">100</tspan> <tspan x="596.6" textLength="13.6" lengthAdjust="spacingAndGlyphs">°C</tspan></text>
</g>
<text transform="translate(138.6 284) rotate(-90)" font-family="'Liberation Serif', serif" font-size="20" font-weight="bold" fill="#111" stroke="#111" stroke-width="0.2"><tspan x="-0.74" letter-spacing="2" textLength="52.3" lengthAdjust="spacingAndGlyphs">OHTC</tspan> <tspan x="55.56" textLength="7.94" lengthAdjust="spacingAndGlyphs">(</tspan><tspan x="64.10" textLength="17.48" lengthAdjust="spacingAndGlyphs">W</tspan><tspan x="82.40" dy="2.8" font-size="25" textLength="8.31" lengthAdjust="spacingAndGlyphs" font-weight="normal" stroke-width="0.1">/</tspan><tspan x="92.66" dy="-2.8" textLength="6.87" lengthAdjust="spacingAndGlyphs">(</tspan><tspan x="100.20" textLength="15.39" lengthAdjust="spacingAndGlyphs">m</tspan><tspan x="116.78" dy="-5.8" font-size="12.6" textLength="6.74" lengthAdjust="spacingAndGlyphs">2</tspan> <tspan x="130.05" dy="5.8" textLength="12.10" lengthAdjust="spacingAndGlyphs">K</tspan><tspan x="141.91" textLength="7.39" lengthAdjust="spacingAndGlyphs">)</tspan><tspan x="149.91" textLength="7.39" lengthAdjust="spacingAndGlyphs">)</tspan></text>
<line x1="201.1" y1="55.8" x2="239.4" y2="55.8" stroke="#6aa252" stroke-width="0.9"/>
<rect x="218.1" y="53.7" width="4.3" height="4.3" fill="#3b7d23"/>
<text x="244.0" y="61.8" font-family="'Liberation Serif', serif" font-size="18" fill="#222">A</text>
<line x1="271.2" y1="55.8" x2="309.5" y2="55.8" stroke="#aac976" stroke-width="0.9"/>
<circle cx="290.4" cy="55.8" r="2.5" fill="#8db04a"/>
<text x="314.1" y="61.8" font-family="'Liberation Serif', serif" font-size="18" fill="#222">B</text>
<line x1="201.1" y1="77.5" x2="239.4" y2="77.5" stroke="#e0eba2" stroke-width="0.9"/>
<path d="M220.2 74.6L223.2 79.9L217.3 79.9Z" fill="#d6e480"/>
<text x="244.0" y="83.5" font-family="'Liberation Serif', serif" font-size="18" fill="#222">C</text>
<line x1="271.2" y1="77.5" x2="309.5" y2="77.5" stroke="#f8e294" stroke-width="0.9"/>
<path d="M290.4 80.4L293.3 75.1L287.4 75.1Z" fill="#f6da62"/>
<text x="314.1" y="83.5" font-family="'Liberation Serif', serif" font-size="18" fill="#222">D</text>
<line x1="201.1" y1="99.5" x2="239.4" y2="99.5" stroke="#f6b462" stroke-width="0.9"/>
<path d="M220.2 96.5L223.1 99.5L220.2 102.5L217.4 99.5Z" fill="#f3981c"/>
<text x="244.0" y="105.5" font-family="'Liberation Serif', serif" font-size="18" fill="#222">E</text>
<line x1="271.2" y1="99.5" x2="309.5" y2="99.5" stroke="#d08848" stroke-width="0.9"/>
<path d="M287.4 99.5L292.7 96.6L292.7 102.4Z" fill="#bf5e0c"/>
<text x="314.1" y="105.5" font-family="'Liberation Serif', serif" font-size="18" fill="#222">F</text>
</g>
</svg>
</body></html>
